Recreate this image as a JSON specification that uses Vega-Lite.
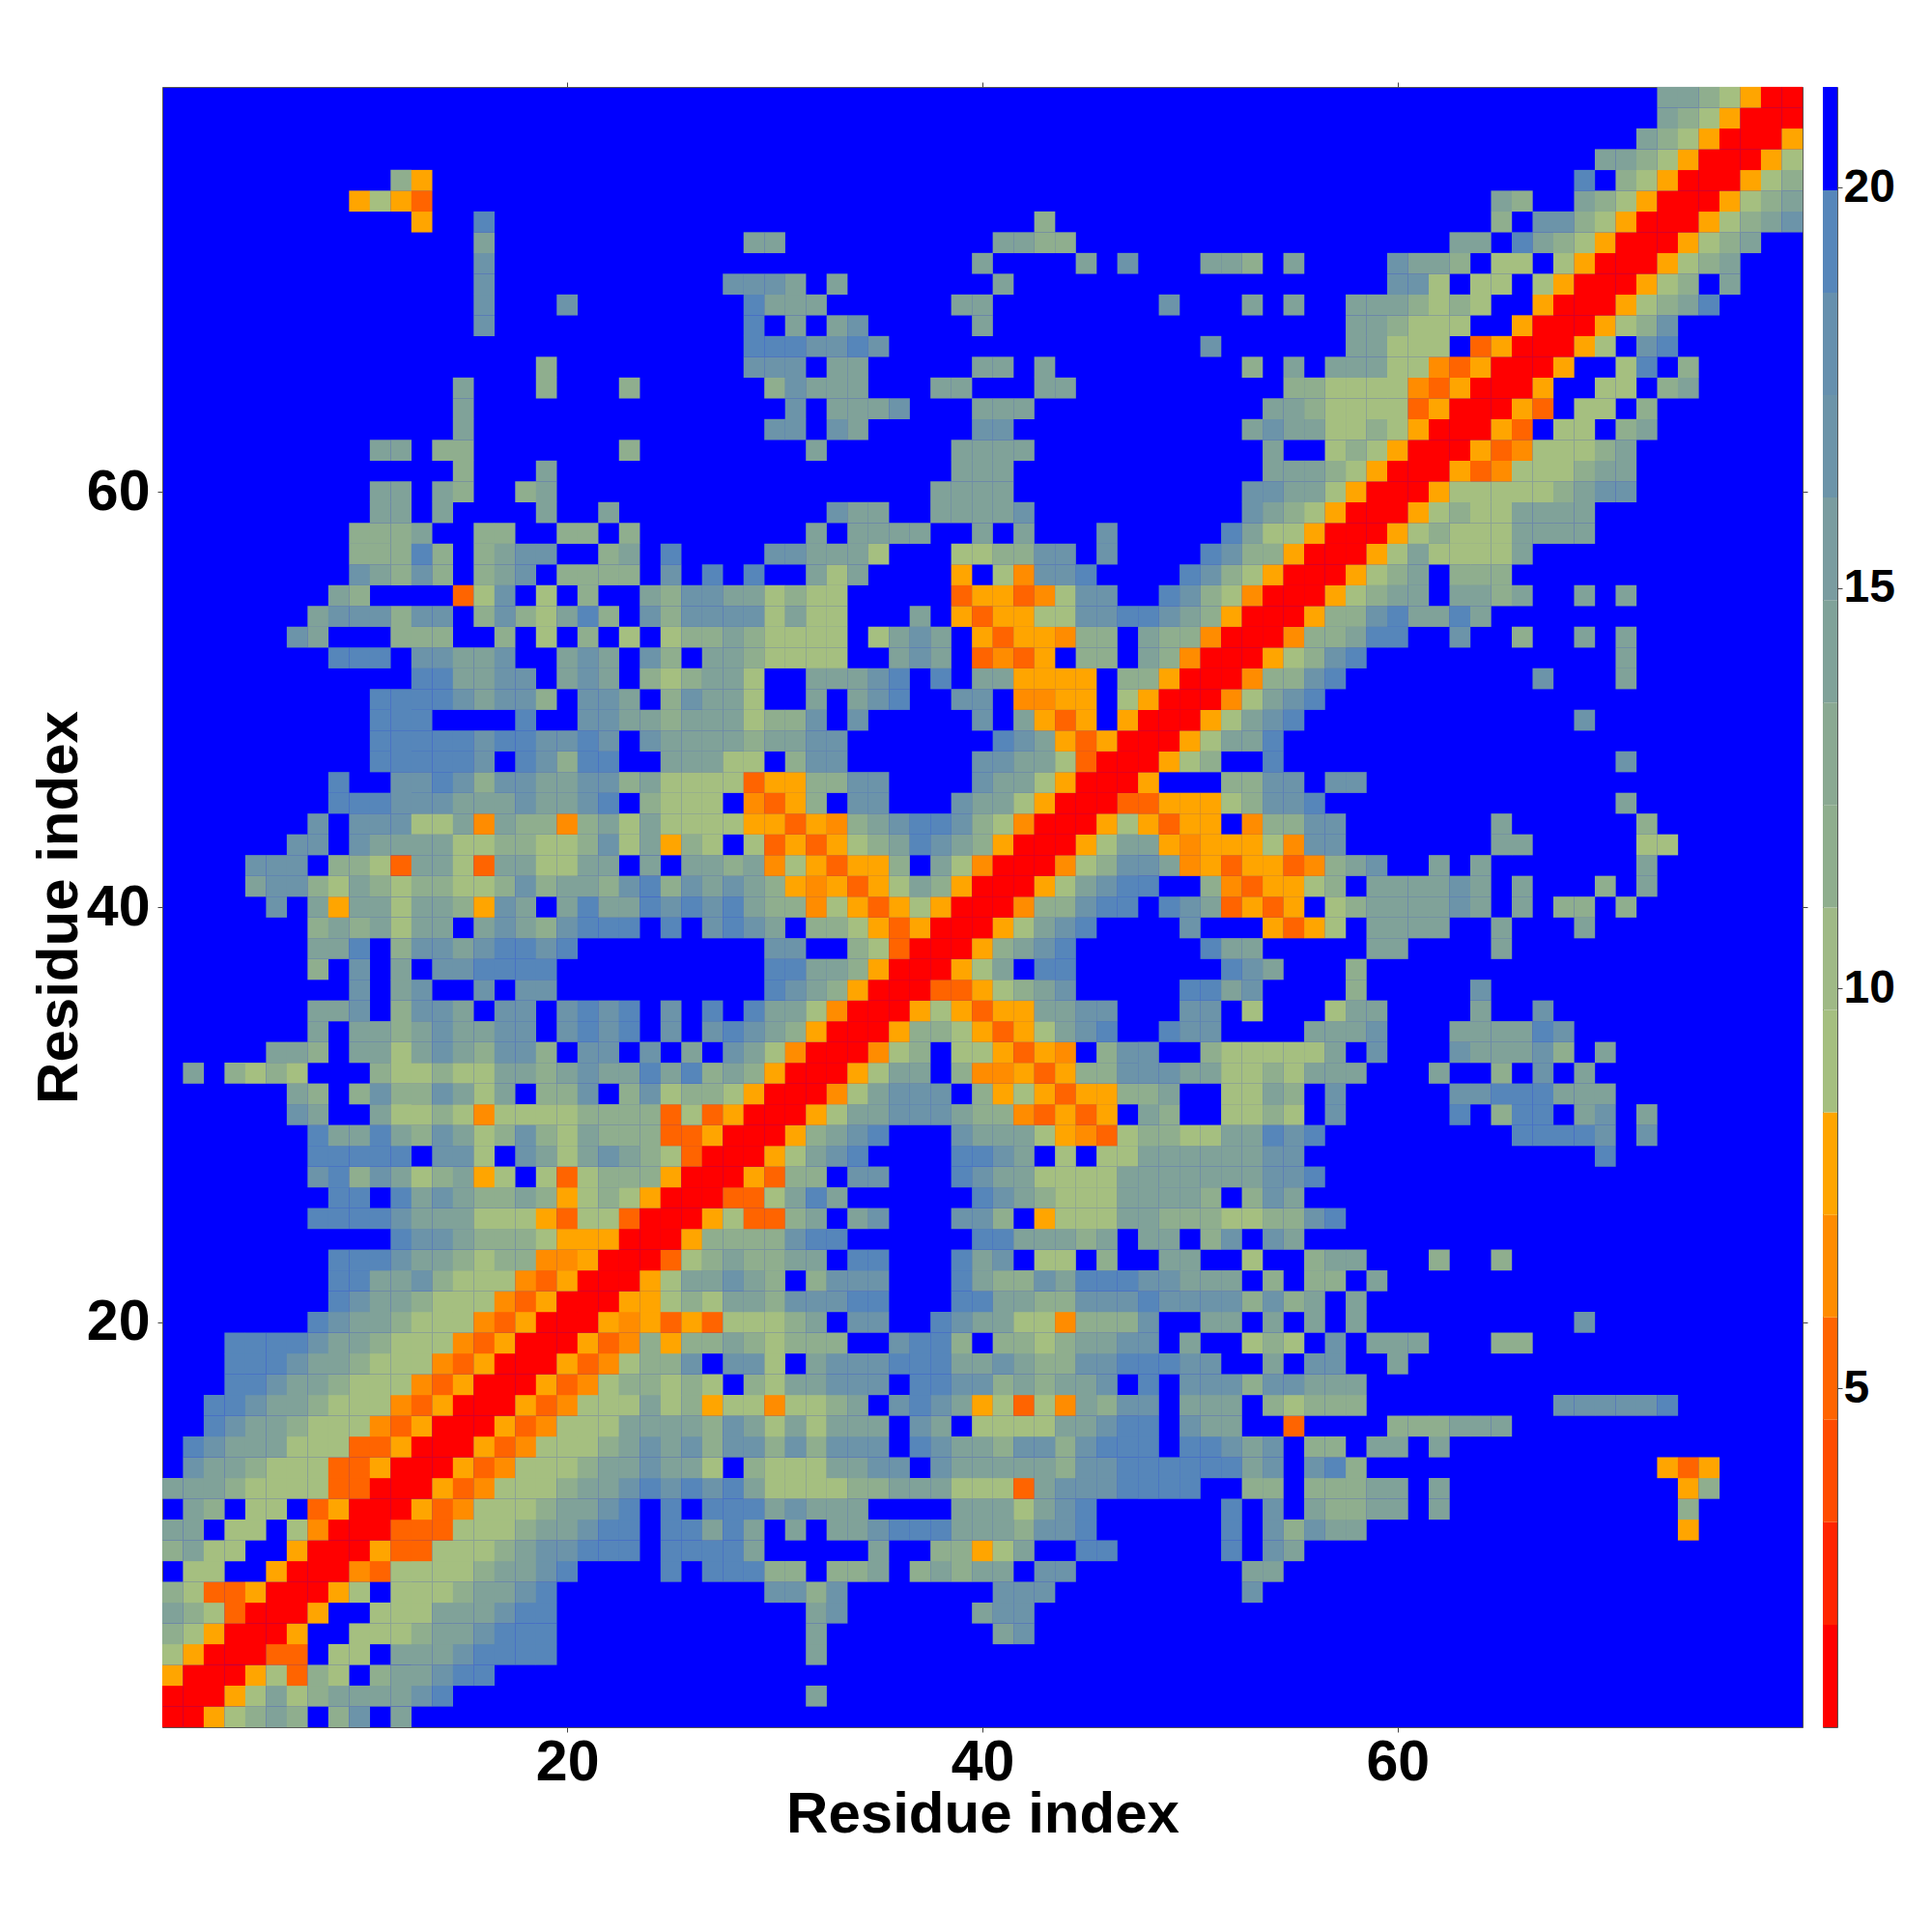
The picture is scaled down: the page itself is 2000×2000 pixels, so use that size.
{"$schema":"https://vega.github.io/schema/vega-lite/v6.json","background":"white","padding":{"left":30,"top":84,"right":0,"bottom":0},"bounds":"flush","spacing":21,"config":{"font":"Liberation Sans"},"datasets":{"cells":[
{"x":1,"y":1,"v":1},{"x":2,"y":1,"v":1},{"x":3,"y":1,"v":8},{"x":4,"y":1,"v":9},{"x":5,"y":1,"v":12},{"x":6,"y":1,"v":14},{"x":7,"y":1,"v":12},{"x":9,"y":1,"v":12},{"x":10,"y":1,"v":17},{"x":12,"y":1,"v":14},
{"x":1,"y":2,"v":1},{"x":2,"y":2,"v":1},{"x":3,"y":2,"v":1},{"x":4,"y":2,"v":8},{"x":5,"y":2,"v":9},{"x":6,"y":2,"v":14},{"x":7,"y":2,"v":9},{"x":8,"y":2,"v":12},{"x":9,"y":2,"v":14},{"x":10,"y":2,"v":14},{"x":11,"y":2,"v":14},{"x":12,"y":2,"v":14},{"x":13,"y":2,"v":17},{"x":14,"y":2,"v":19},{"x":32,"y":2,"v":14},
{"x":1,"y":3,"v":8},{"x":2,"y":3,"v":1},{"x":3,"y":3,"v":1},{"x":4,"y":3,"v":1},{"x":5,"y":3,"v":8},{"x":6,"y":3,"v":9},{"x":7,"y":3,"v":5},{"x":8,"y":3,"v":12},{"x":9,"y":3,"v":9},{"x":11,"y":3,"v":12},{"x":12,"y":3,"v":14},{"x":13,"y":3,"v":14},{"x":14,"y":3,"v":17},{"x":15,"y":3,"v":19},{"x":16,"y":3,"v":19},
{"x":1,"y":4,"v":9},{"x":2,"y":4,"v":8},{"x":3,"y":4,"v":1},{"x":4,"y":4,"v":1},{"x":5,"y":4,"v":1},{"x":6,"y":4,"v":5},{"x":7,"y":4,"v":5},{"x":9,"y":4,"v":9},{"x":10,"y":4,"v":9},{"x":12,"y":4,"v":14},{"x":13,"y":4,"v":14},{"x":14,"y":4,"v":14},{"x":15,"y":4,"v":17},{"x":16,"y":4,"v":19},{"x":17,"y":4,"v":19},{"x":18,"y":4,"v":19},{"x":19,"y":4,"v":19},{"x":32,"y":4,"v":14},
{"x":1,"y":5,"v":12},{"x":2,"y":5,"v":9},{"x":3,"y":5,"v":8},{"x":4,"y":5,"v":1},{"x":5,"y":5,"v":1},{"x":6,"y":5,"v":1},{"x":7,"y":5,"v":8},{"x":10,"y":5,"v":9},{"x":11,"y":5,"v":9},{"x":12,"y":5,"v":9},{"x":13,"y":5,"v":12},{"x":14,"y":5,"v":14},{"x":15,"y":5,"v":14},{"x":16,"y":5,"v":17},{"x":17,"y":5,"v":19},{"x":18,"y":5,"v":19},{"x":19,"y":5,"v":19},{"x":32,"y":5,"v":14},{"x":41,"y":5,"v":14},{"x":42,"y":5,"v":17},
{"x":1,"y":6,"v":14},{"x":2,"y":6,"v":12},{"x":3,"y":6,"v":9},{"x":4,"y":6,"v":5},{"x":5,"y":6,"v":1},{"x":6,"y":6,"v":1},{"x":7,"y":6,"v":1},{"x":8,"y":6,"v":8},{"x":11,"y":6,"v":9},{"x":12,"y":6,"v":9},{"x":13,"y":6,"v":9},{"x":14,"y":6,"v":14},{"x":15,"y":6,"v":14},{"x":16,"y":6,"v":14},{"x":17,"y":6,"v":17},{"x":18,"y":6,"v":19},{"x":19,"y":6,"v":19},{"x":32,"y":6,"v":14},{"x":33,"y":6,"v":17},{"x":40,"y":6,"v":14},{"x":41,"y":6,"v":17},{"x":42,"y":6,"v":17},
{"x":1,"y":7,"v":12},{"x":2,"y":7,"v":9},{"x":3,"y":7,"v":5},{"x":4,"y":7,"v":5},{"x":5,"y":7,"v":8},{"x":6,"y":7,"v":1},{"x":7,"y":7,"v":1},{"x":8,"y":7,"v":1},{"x":9,"y":7,"v":8},{"x":10,"y":7,"v":9},{"x":12,"y":7,"v":9},{"x":13,"y":7,"v":9},{"x":14,"y":7,"v":9},{"x":15,"y":7,"v":12},{"x":16,"y":7,"v":14},{"x":17,"y":7,"v":14},{"x":18,"y":7,"v":17},{"x":19,"y":7,"v":19},{"x":30,"y":7,"v":17},{"x":31,"y":7,"v":17},{"x":32,"y":7,"v":12},{"x":33,"y":7,"v":17},{"x":41,"y":7,"v":17},{"x":42,"y":7,"v":17},{"x":43,"y":7,"v":17},{"x":53,"y":7,"v":17},
{"x":2,"y":8,"v":9},{"x":3,"y":8,"v":9},{"x":6,"y":8,"v":8},{"x":7,"y":8,"v":1},{"x":8,"y":8,"v":1},{"x":9,"y":8,"v":1},{"x":10,"y":8,"v":6},{"x":11,"y":8,"v":5},{"x":12,"y":8,"v":9},{"x":13,"y":8,"v":9},{"x":14,"y":8,"v":9},{"x":15,"y":8,"v":9},{"x":16,"y":8,"v":12},{"x":17,"y":8,"v":14},{"x":18,"y":8,"v":14},{"x":19,"y":8,"v":17},{"x":20,"y":8,"v":19},{"x":25,"y":8,"v":19},{"x":27,"y":8,"v":19},{"x":28,"y":8,"v":19},{"x":29,"y":8,"v":19},{"x":30,"y":8,"v":12},{"x":31,"y":8,"v":12},{"x":33,"y":8,"v":12},{"x":34,"y":8,"v":12},{"x":35,"y":8,"v":14},{"x":37,"y":8,"v":12},{"x":38,"y":8,"v":14},{"x":39,"y":8,"v":12},{"x":40,"y":8,"v":14},{"x":41,"y":8,"v":14},{"x":43,"y":8,"v":17},{"x":44,"y":8,"v":17},{"x":53,"y":8,"v":14},{"x":54,"y":8,"v":14},
{"x":1,"y":9,"v":12},{"x":2,"y":9,"v":14},{"x":3,"y":9,"v":9},{"x":4,"y":9,"v":9},{"x":7,"y":9,"v":8},{"x":8,"y":9,"v":1},{"x":9,"y":9,"v":1},{"x":10,"y":9,"v":1},{"x":11,"y":9,"v":8},{"x":12,"y":9,"v":5},{"x":13,"y":9,"v":5},{"x":14,"y":9,"v":9},{"x":15,"y":9,"v":9},{"x":16,"y":9,"v":9},{"x":17,"y":9,"v":12},{"x":18,"y":9,"v":14},{"x":19,"y":9,"v":17},{"x":20,"y":9,"v":17},{"x":21,"y":9,"v":19},{"x":22,"y":9,"v":19},{"x":23,"y":9,"v":19},{"x":25,"y":9,"v":19},{"x":26,"y":9,"v":19},{"x":27,"y":9,"v":19},{"x":28,"y":9,"v":19},{"x":29,"y":9,"v":14},{"x":35,"y":9,"v":14},{"x":38,"y":9,"v":12},{"x":39,"y":9,"v":12},{"x":40,"y":9,"v":8},{"x":41,"y":9,"v":9},{"x":42,"y":9,"v":14},{"x":45,"y":9,"v":19},{"x":46,"y":9,"v":19},{"x":52,"y":9,"v":19},{"x":54,"y":9,"v":17},{"x":55,"y":9,"v":14},
{"x":1,"y":10,"v":14},{"x":2,"y":10,"v":14},{"x":4,"y":10,"v":9},{"x":5,"y":10,"v":9},{"x":7,"y":10,"v":9},{"x":8,"y":10,"v":6},{"x":9,"y":10,"v":1},{"x":10,"y":10,"v":1},{"x":11,"y":10,"v":1},{"x":12,"y":10,"v":5},{"x":13,"y":10,"v":5},{"x":14,"y":10,"v":5},{"x":15,"y":10,"v":9},{"x":16,"y":10,"v":9},{"x":17,"y":10,"v":9},{"x":18,"y":10,"v":12},{"x":19,"y":10,"v":14},{"x":20,"y":10,"v":14},{"x":21,"y":10,"v":17},{"x":22,"y":10,"v":19},{"x":23,"y":10,"v":19},{"x":25,"y":10,"v":19},{"x":26,"y":10,"v":19},{"x":27,"y":10,"v":14},{"x":28,"y":10,"v":19},{"x":29,"y":10,"v":14},{"x":31,"y":10,"v":14},{"x":33,"y":10,"v":14},{"x":34,"y":10,"v":14},{"x":35,"y":10,"v":17},{"x":36,"y":10,"v":19},{"x":37,"y":10,"v":19},{"x":38,"y":10,"v":19},{"x":39,"y":10,"v":14},{"x":40,"y":10,"v":14},{"x":41,"y":10,"v":14},{"x":42,"y":10,"v":12},{"x":43,"y":10,"v":17},{"x":44,"y":10,"v":17},{"x":45,"y":10,"v":19},{"x":52,"y":10,"v":19},{"x":54,"y":10,"v":17},{"x":55,"y":10,"v":12},{"x":56,"y":10,"v":17},{"x":57,"y":10,"v":14},{"x":58,"y":10,"v":14},{"x":74,"y":10,"v":8},
{"x":2,"y":11,"v":14},{"x":3,"y":11,"v":12},{"x":5,"y":11,"v":9},{"x":6,"y":11,"v":9},{"x":8,"y":11,"v":5},{"x":9,"y":11,"v":8},{"x":10,"y":11,"v":1},{"x":11,"y":11,"v":1},{"x":12,"y":11,"v":1},{"x":13,"y":11,"v":8},{"x":14,"y":11,"v":5},{"x":15,"y":11,"v":6},{"x":16,"y":11,"v":9},{"x":17,"y":11,"v":9},{"x":18,"y":11,"v":9},{"x":19,"y":11,"v":12},{"x":20,"y":11,"v":14},{"x":21,"y":11,"v":14},{"x":22,"y":11,"v":17},{"x":23,"y":11,"v":19},{"x":25,"y":11,"v":19},{"x":27,"y":11,"v":19},{"x":28,"y":11,"v":19},{"x":29,"y":11,"v":19},{"x":30,"y":11,"v":14},{"x":31,"y":11,"v":17},{"x":32,"y":11,"v":14},{"x":33,"y":11,"v":14},{"x":34,"y":11,"v":14},{"x":39,"y":11,"v":14},{"x":40,"y":11,"v":14},{"x":41,"y":11,"v":14},{"x":42,"y":11,"v":9},{"x":43,"y":11,"v":14},{"x":44,"y":11,"v":17},{"x":45,"y":11,"v":19},{"x":52,"y":11,"v":19},{"x":54,"y":11,"v":17},{"x":56,"y":11,"v":14},{"x":57,"y":11,"v":12},{"x":58,"y":11,"v":12},{"x":59,"y":11,"v":14},{"x":60,"y":11,"v":14},{"x":62,"y":11,"v":14},{"x":74,"y":11,"v":12},
{"x":1,"y":12,"v":14},{"x":2,"y":12,"v":14},{"x":3,"y":12,"v":14},{"x":4,"y":12,"v":12},{"x":5,"y":12,"v":9},{"x":6,"y":12,"v":9},{"x":7,"y":12,"v":9},{"x":8,"y":12,"v":9},{"x":9,"y":12,"v":5},{"x":10,"y":12,"v":5},{"x":11,"y":12,"v":1},{"x":12,"y":12,"v":1},{"x":13,"y":12,"v":1},{"x":14,"y":12,"v":8},{"x":15,"y":12,"v":5},{"x":16,"y":12,"v":6},{"x":17,"y":12,"v":9},{"x":18,"y":12,"v":9},{"x":19,"y":12,"v":9},{"x":20,"y":12,"v":12},{"x":21,"y":12,"v":14},{"x":22,"y":12,"v":14},{"x":23,"y":12,"v":17},{"x":24,"y":12,"v":19},{"x":25,"y":12,"v":17},{"x":26,"y":12,"v":19},{"x":27,"y":12,"v":17},{"x":28,"y":12,"v":19},{"x":29,"y":12,"v":14},{"x":30,"y":12,"v":9},{"x":31,"y":12,"v":9},{"x":32,"y":12,"v":9},{"x":33,"y":12,"v":9},{"x":34,"y":12,"v":12},{"x":35,"y":12,"v":12},{"x":36,"y":12,"v":14},{"x":37,"y":12,"v":14},{"x":38,"y":12,"v":14},{"x":39,"y":12,"v":9},{"x":40,"y":12,"v":9},{"x":41,"y":12,"v":9},{"x":42,"y":12,"v":5},{"x":43,"y":12,"v":14},{"x":44,"y":12,"v":17},{"x":45,"y":12,"v":17},{"x":46,"y":12,"v":17},{"x":47,"y":12,"v":19},{"x":48,"y":12,"v":19},{"x":49,"y":12,"v":19},{"x":50,"y":12,"v":19},{"x":53,"y":12,"v":12},{"x":54,"y":12,"v":12},{"x":56,"y":12,"v":12},{"x":57,"y":12,"v":12},{"x":58,"y":12,"v":12},{"x":59,"y":12,"v":14},{"x":60,"y":12,"v":14},{"x":62,"y":12,"v":14},{"x":74,"y":12,"v":8},{"x":75,"y":12,"v":12},
{"x":2,"y":13,"v":17},{"x":3,"y":13,"v":14},{"x":4,"y":13,"v":14},{"x":5,"y":13,"v":12},{"x":6,"y":13,"v":9},{"x":7,"y":13,"v":9},{"x":8,"y":13,"v":9},{"x":9,"y":13,"v":5},{"x":10,"y":13,"v":5},{"x":11,"y":13,"v":8},{"x":12,"y":13,"v":1},{"x":13,"y":13,"v":1},{"x":14,"y":13,"v":1},{"x":15,"y":13,"v":8},{"x":16,"y":13,"v":5},{"x":17,"y":13,"v":6},{"x":18,"y":13,"v":9},{"x":19,"y":13,"v":9},{"x":20,"y":13,"v":9},{"x":21,"y":13,"v":12},{"x":22,"y":13,"v":14},{"x":23,"y":13,"v":14},{"x":24,"y":13,"v":17},{"x":25,"y":13,"v":14},{"x":26,"y":13,"v":14},{"x":27,"y":13,"v":9},{"x":29,"y":13,"v":12},{"x":30,"y":13,"v":9},{"x":31,"y":13,"v":9},{"x":32,"y":13,"v":9},{"x":33,"y":13,"v":14},{"x":34,"y":13,"v":14},{"x":35,"y":13,"v":17},{"x":36,"y":13,"v":17},{"x":38,"y":13,"v":17},{"x":39,"y":13,"v":14},{"x":40,"y":13,"v":14},{"x":41,"y":13,"v":14},{"x":42,"y":13,"v":14},{"x":43,"y":13,"v":14},{"x":44,"y":13,"v":12},{"x":45,"y":13,"v":17},{"x":46,"y":13,"v":17},{"x":47,"y":13,"v":19},{"x":48,"y":13,"v":19},{"x":49,"y":13,"v":19},{"x":50,"y":13,"v":19},{"x":51,"y":13,"v":19},{"x":52,"y":13,"v":19},{"x":53,"y":13,"v":14},{"x":54,"y":13,"v":17},{"x":56,"y":13,"v":17},{"x":57,"y":13,"v":19},{"x":58,"y":13,"v":12},{"x":73,"y":13,"v":8},{"x":74,"y":13,"v":5},{"x":75,"y":13,"v":8},
{"x":2,"y":14,"v":19},{"x":3,"y":14,"v":17},{"x":4,"y":14,"v":14},{"x":5,"y":14,"v":14},{"x":6,"y":14,"v":14},{"x":7,"y":14,"v":9},{"x":8,"y":14,"v":9},{"x":9,"y":14,"v":9},{"x":10,"y":14,"v":5},{"x":11,"y":14,"v":5},{"x":12,"y":14,"v":8},{"x":13,"y":14,"v":1},{"x":14,"y":14,"v":1},{"x":15,"y":14,"v":1},{"x":16,"y":14,"v":8},{"x":17,"y":14,"v":5},{"x":18,"y":14,"v":6},{"x":19,"y":14,"v":9},{"x":20,"y":14,"v":9},{"x":21,"y":14,"v":9},{"x":22,"y":14,"v":12},{"x":23,"y":14,"v":14},{"x":24,"y":14,"v":17},{"x":25,"y":14,"v":14},{"x":26,"y":14,"v":17},{"x":27,"y":14,"v":12},{"x":28,"y":14,"v":17},{"x":29,"y":14,"v":17},{"x":30,"y":14,"v":12},{"x":31,"y":14,"v":17},{"x":32,"y":14,"v":12},{"x":33,"y":14,"v":17},{"x":34,"y":14,"v":17},{"x":35,"y":14,"v":17},{"x":37,"y":14,"v":19},{"x":38,"y":14,"v":17},{"x":39,"y":14,"v":14},{"x":40,"y":14,"v":14},{"x":41,"y":14,"v":12},{"x":42,"y":14,"v":17},{"x":43,"y":14,"v":17},{"x":44,"y":14,"v":12},{"x":45,"y":14,"v":17},{"x":46,"y":14,"v":19},{"x":47,"y":14,"v":19},{"x":48,"y":14,"v":19},{"x":50,"y":14,"v":19},{"x":51,"y":14,"v":19},{"x":52,"y":14,"v":17},{"x":53,"y":14,"v":14},{"x":54,"y":14,"v":17},{"x":56,"y":14,"v":12},{"x":57,"y":14,"v":12},{"x":59,"y":14,"v":14},{"x":60,"y":14,"v":14},{"x":62,"y":14,"v":14},
{"x":3,"y":15,"v":19},{"x":4,"y":15,"v":17},{"x":5,"y":15,"v":14},{"x":6,"y":15,"v":14},{"x":7,"y":15,"v":12},{"x":8,"y":15,"v":9},{"x":9,"y":15,"v":9},{"x":10,"y":15,"v":9},{"x":11,"y":15,"v":6},{"x":12,"y":15,"v":5},{"x":13,"y":15,"v":8},{"x":14,"y":15,"v":1},{"x":15,"y":15,"v":1},{"x":16,"y":15,"v":1},{"x":17,"y":15,"v":8},{"x":18,"y":15,"v":5},{"x":19,"y":15,"v":6},{"x":20,"y":15,"v":9},{"x":21,"y":15,"v":9},{"x":22,"y":15,"v":9},{"x":23,"y":15,"v":14},{"x":24,"y":15,"v":14},{"x":25,"y":15,"v":14},{"x":26,"y":15,"v":14},{"x":27,"y":15,"v":12},{"x":28,"y":15,"v":17},{"x":29,"y":15,"v":14},{"x":30,"y":15,"v":9},{"x":31,"y":15,"v":14},{"x":32,"y":15,"v":9},{"x":33,"y":15,"v":14},{"x":34,"y":15,"v":14},{"x":35,"y":15,"v":14},{"x":37,"y":15,"v":17},{"x":38,"y":15,"v":14},{"x":40,"y":15,"v":9},{"x":41,"y":15,"v":9},{"x":42,"y":15,"v":9},{"x":43,"y":15,"v":9},{"x":44,"y":15,"v":14},{"x":45,"y":15,"v":14},{"x":46,"y":15,"v":17},{"x":47,"y":15,"v":19},{"x":48,"y":15,"v":19},{"x":50,"y":15,"v":17},{"x":51,"y":15,"v":14},{"x":52,"y":15,"v":14},{"x":55,"y":15,"v":5},{"x":60,"y":15,"v":12},{"x":61,"y":15,"v":12},{"x":62,"y":15,"v":12},{"x":63,"y":15,"v":14},{"x":64,"y":15,"v":14},{"x":65,"y":15,"v":14},
{"x":3,"y":16,"v":19},{"x":4,"y":16,"v":19},{"x":5,"y":16,"v":17},{"x":6,"y":16,"v":14},{"x":7,"y":16,"v":14},{"x":8,"y":16,"v":12},{"x":9,"y":16,"v":9},{"x":10,"y":16,"v":9},{"x":11,"y":16,"v":9},{"x":12,"y":16,"v":6},{"x":13,"y":16,"v":5},{"x":14,"y":16,"v":8},{"x":15,"y":16,"v":1},{"x":16,"y":16,"v":1},{"x":17,"y":16,"v":1},{"x":18,"y":16,"v":8},{"x":19,"y":16,"v":5},{"x":20,"y":16,"v":6},{"x":21,"y":16,"v":9},{"x":22,"y":16,"v":9},{"x":23,"y":16,"v":9},{"x":24,"y":16,"v":14},{"x":25,"y":16,"v":9},{"x":26,"y":16,"v":12},{"x":27,"y":16,"v":8},{"x":28,"y":16,"v":9},{"x":29,"y":16,"v":9},{"x":30,"y":16,"v":6},{"x":31,"y":16,"v":9},{"x":32,"y":16,"v":9},{"x":33,"y":16,"v":12},{"x":34,"y":16,"v":14},{"x":36,"y":16,"v":17},{"x":37,"y":16,"v":19},{"x":38,"y":16,"v":17},{"x":39,"y":16,"v":14},{"x":40,"y":16,"v":8},{"x":41,"y":16,"v":9},{"x":42,"y":16,"v":5},{"x":43,"y":16,"v":9},{"x":44,"y":16,"v":6},{"x":45,"y":16,"v":14},{"x":46,"y":16,"v":12},{"x":47,"y":16,"v":17},{"x":48,"y":16,"v":17},{"x":50,"y":16,"v":14},{"x":51,"y":16,"v":14},{"x":52,"y":16,"v":14},{"x":54,"y":16,"v":12},{"x":55,"y":16,"v":9},{"x":56,"y":16,"v":12},{"x":57,"y":16,"v":12},{"x":58,"y":16,"v":12},{"x":68,"y":16,"v":17},{"x":69,"y":16,"v":17},{"x":70,"y":16,"v":17},{"x":71,"y":16,"v":17},{"x":72,"y":16,"v":17},{"x":73,"y":16,"v":19},
{"x":4,"y":17,"v":19},{"x":5,"y":17,"v":19},{"x":6,"y":17,"v":17},{"x":7,"y":17,"v":14},{"x":8,"y":17,"v":14},{"x":9,"y":17,"v":12},{"x":10,"y":17,"v":9},{"x":11,"y":17,"v":9},{"x":12,"y":17,"v":9},{"x":13,"y":17,"v":6},{"x":14,"y":17,"v":5},{"x":15,"y":17,"v":8},{"x":16,"y":17,"v":1},{"x":17,"y":17,"v":1},{"x":18,"y":17,"v":1},{"x":19,"y":17,"v":8},{"x":20,"y":17,"v":5},{"x":21,"y":17,"v":6},{"x":22,"y":17,"v":9},{"x":23,"y":17,"v":12},{"x":24,"y":17,"v":12},{"x":25,"y":17,"v":9},{"x":26,"y":17,"v":12},{"x":27,"y":17,"v":9},{"x":29,"y":17,"v":12},{"x":30,"y":17,"v":9},{"x":31,"y":17,"v":14},{"x":32,"y":17,"v":14},{"x":33,"y":17,"v":17},{"x":34,"y":17,"v":17},{"x":35,"y":17,"v":17},{"x":37,"y":17,"v":19},{"x":38,"y":17,"v":19},{"x":39,"y":17,"v":17},{"x":40,"y":17,"v":17},{"x":41,"y":17,"v":12},{"x":42,"y":17,"v":14},{"x":43,"y":17,"v":12},{"x":44,"y":17,"v":14},{"x":45,"y":17,"v":14},{"x":46,"y":17,"v":17},{"x":48,"y":17,"v":19},{"x":50,"y":17,"v":17},{"x":51,"y":17,"v":17},{"x":52,"y":17,"v":17},{"x":53,"y":17,"v":12},{"x":54,"y":17,"v":17},{"x":55,"y":17,"v":17},{"x":56,"y":17,"v":14},{"x":57,"y":17,"v":14},{"x":58,"y":17,"v":14},
{"x":4,"y":18,"v":19},{"x":5,"y":18,"v":19},{"x":6,"y":18,"v":19},{"x":7,"y":18,"v":17},{"x":8,"y":18,"v":14},{"x":9,"y":18,"v":14},{"x":10,"y":18,"v":12},{"x":11,"y":18,"v":9},{"x":12,"y":18,"v":9},{"x":13,"y":18,"v":9},{"x":14,"y":18,"v":6},{"x":15,"y":18,"v":5},{"x":16,"y":18,"v":8},{"x":17,"y":18,"v":1},{"x":18,"y":18,"v":1},{"x":19,"y":18,"v":1},{"x":20,"y":18,"v":8},{"x":21,"y":18,"v":5},{"x":22,"y":18,"v":6},{"x":23,"y":18,"v":9},{"x":24,"y":18,"v":12},{"x":25,"y":18,"v":12},{"x":26,"y":18,"v":17},{"x":28,"y":18,"v":17},{"x":29,"y":18,"v":17},{"x":30,"y":18,"v":9},{"x":32,"y":18,"v":14},{"x":33,"y":18,"v":17},{"x":34,"y":18,"v":17},{"x":35,"y":18,"v":17},{"x":36,"y":18,"v":19},{"x":37,"y":18,"v":19},{"x":38,"y":18,"v":19},{"x":39,"y":18,"v":14},{"x":40,"y":18,"v":14},{"x":41,"y":18,"v":17},{"x":42,"y":18,"v":14},{"x":43,"y":18,"v":12},{"x":44,"y":18,"v":12},{"x":45,"y":18,"v":17},{"x":46,"y":18,"v":17},{"x":47,"y":18,"v":19},{"x":48,"y":18,"v":19},{"x":49,"y":18,"v":19},{"x":50,"y":18,"v":17},{"x":51,"y":18,"v":17},{"x":54,"y":18,"v":14},{"x":56,"y":18,"v":17},{"x":57,"y":18,"v":17},{"x":60,"y":18,"v":14},
{"x":4,"y":19,"v":19},{"x":5,"y":19,"v":19},{"x":6,"y":19,"v":19},{"x":7,"y":19,"v":19},{"x":8,"y":19,"v":17},{"x":9,"y":19,"v":14},{"x":10,"y":19,"v":14},{"x":11,"y":19,"v":12},{"x":12,"y":19,"v":9},{"x":13,"y":19,"v":9},{"x":14,"y":19,"v":9},{"x":15,"y":19,"v":6},{"x":16,"y":19,"v":5},{"x":17,"y":19,"v":8},{"x":18,"y":19,"v":1},{"x":19,"y":19,"v":1},{"x":20,"y":19,"v":1},{"x":21,"y":19,"v":8},{"x":22,"y":19,"v":5},{"x":23,"y":19,"v":6},{"x":24,"y":19,"v":12},{"x":25,"y":19,"v":8},{"x":26,"y":19,"v":12},{"x":27,"y":19,"v":12},{"x":28,"y":19,"v":14},{"x":29,"y":19,"v":12},{"x":30,"y":19,"v":9},{"x":31,"y":19,"v":12},{"x":32,"y":19,"v":12},{"x":33,"y":19,"v":12},{"x":36,"y":19,"v":17},{"x":37,"y":19,"v":19},{"x":38,"y":19,"v":19},{"x":39,"y":19,"v":12},{"x":41,"y":19,"v":12},{"x":42,"y":19,"v":12},{"x":43,"y":19,"v":9},{"x":44,"y":19,"v":12},{"x":45,"y":19,"v":14},{"x":46,"y":19,"v":14},{"x":47,"y":19,"v":17},{"x":48,"y":19,"v":17},{"x":50,"y":19,"v":14},{"x":53,"y":19,"v":9},{"x":54,"y":19,"v":12},{"x":55,"y":19,"v":9},{"x":57,"y":19,"v":17},{"x":59,"y":19,"v":14},{"x":60,"y":19,"v":14},{"x":61,"y":19,"v":14},{"x":65,"y":19,"v":12},{"x":66,"y":19,"v":12},
{"x":8,"y":20,"v":19},{"x":9,"y":20,"v":17},{"x":10,"y":20,"v":14},{"x":11,"y":20,"v":14},{"x":12,"y":20,"v":12},{"x":13,"y":20,"v":9},{"x":14,"y":20,"v":9},{"x":15,"y":20,"v":9},{"x":16,"y":20,"v":6},{"x":17,"y":20,"v":5},{"x":18,"y":20,"v":8},{"x":19,"y":20,"v":1},{"x":20,"y":20,"v":1},{"x":21,"y":20,"v":1},{"x":22,"y":20,"v":8},{"x":23,"y":20,"v":6},{"x":24,"y":20,"v":8},{"x":25,"y":20,"v":5},{"x":26,"y":20,"v":8},{"x":27,"y":20,"v":5},{"x":28,"y":20,"v":9},{"x":29,"y":20,"v":9},{"x":30,"y":20,"v":9},{"x":31,"y":20,"v":12},{"x":32,"y":20,"v":14},{"x":34,"y":20,"v":17},{"x":35,"y":20,"v":17},{"x":38,"y":20,"v":19},{"x":39,"y":20,"v":17},{"x":40,"y":20,"v":14},{"x":41,"y":20,"v":14},{"x":42,"y":20,"v":9},{"x":43,"y":20,"v":9},{"x":44,"y":20,"v":6},{"x":45,"y":20,"v":12},{"x":46,"y":20,"v":12},{"x":47,"y":20,"v":12},{"x":48,"y":20,"v":17},{"x":51,"y":20,"v":14},{"x":52,"y":20,"v":14},{"x":54,"y":20,"v":14},{"x":56,"y":20,"v":14},{"x":58,"y":20,"v":14},{"x":69,"y":20,"v":17},
{"x":9,"y":21,"v":19},{"x":10,"y":21,"v":17},{"x":11,"y":21,"v":14},{"x":12,"y":21,"v":14},{"x":13,"y":21,"v":12},{"x":14,"y":21,"v":9},{"x":15,"y":21,"v":9},{"x":16,"y":21,"v":9},{"x":17,"y":21,"v":6},{"x":18,"y":21,"v":5},{"x":19,"y":21,"v":8},{"x":20,"y":21,"v":1},{"x":21,"y":21,"v":1},{"x":22,"y":21,"v":1},{"x":23,"y":21,"v":8},{"x":24,"y":21,"v":8},{"x":25,"y":21,"v":9},{"x":26,"y":21,"v":12},{"x":27,"y":21,"v":9},{"x":28,"y":21,"v":14},{"x":29,"y":21,"v":14},{"x":30,"y":21,"v":12},{"x":31,"y":21,"v":17},{"x":32,"y":21,"v":17},{"x":33,"y":21,"v":17},{"x":34,"y":21,"v":19},{"x":35,"y":21,"v":19},{"x":39,"y":21,"v":19},{"x":40,"y":21,"v":19},{"x":41,"y":21,"v":14},{"x":42,"y":21,"v":14},{"x":43,"y":21,"v":12},{"x":44,"y":21,"v":12},{"x":45,"y":21,"v":17},{"x":46,"y":21,"v":17},{"x":47,"y":21,"v":17},{"x":48,"y":21,"v":19},{"x":49,"y":21,"v":17},{"x":50,"y":21,"v":17},{"x":51,"y":21,"v":17},{"x":52,"y":21,"v":17},{"x":53,"y":21,"v":12},{"x":54,"y":21,"v":17},{"x":55,"y":21,"v":12},{"x":56,"y":21,"v":14},{"x":58,"y":21,"v":14},
{"x":9,"y":22,"v":19},{"x":10,"y":22,"v":19},{"x":11,"y":22,"v":14},{"x":12,"y":22,"v":14},{"x":13,"y":22,"v":17},{"x":14,"y":22,"v":12},{"x":15,"y":22,"v":9},{"x":16,"y":22,"v":9},{"x":17,"y":22,"v":9},{"x":18,"y":22,"v":6},{"x":19,"y":22,"v":5},{"x":20,"y":22,"v":8},{"x":21,"y":22,"v":1},{"x":22,"y":22,"v":1},{"x":23,"y":22,"v":1},{"x":24,"y":22,"v":8},{"x":25,"y":22,"v":9},{"x":26,"y":22,"v":14},{"x":27,"y":22,"v":14},{"x":28,"y":22,"v":17},{"x":29,"y":22,"v":14},{"x":30,"y":22,"v":12},{"x":32,"y":22,"v":12},{"x":33,"y":22,"v":17},{"x":34,"y":22,"v":17},{"x":35,"y":22,"v":17},{"x":39,"y":22,"v":19},{"x":40,"y":22,"v":14},{"x":41,"y":22,"v":12},{"x":42,"y":22,"v":12},{"x":43,"y":22,"v":17},{"x":44,"y":22,"v":14},{"x":45,"y":22,"v":19},{"x":46,"y":22,"v":19},{"x":47,"y":22,"v":19},{"x":48,"y":22,"v":17},{"x":49,"y":22,"v":17},{"x":50,"y":22,"v":14},{"x":51,"y":22,"v":14},{"x":52,"y":22,"v":14},{"x":54,"y":22,"v":12},{"x":56,"y":22,"v":12},{"x":57,"y":22,"v":12},{"x":59,"y":22,"v":14},
{"x":9,"y":23,"v":19},{"x":10,"y":23,"v":19},{"x":11,"y":23,"v":19},{"x":12,"y":23,"v":17},{"x":13,"y":23,"v":14},{"x":14,"y":23,"v":14},{"x":15,"y":23,"v":12},{"x":16,"y":23,"v":9},{"x":17,"y":23,"v":12},{"x":18,"y":23,"v":12},{"x":19,"y":23,"v":6},{"x":20,"y":23,"v":6},{"x":21,"y":23,"v":8},{"x":22,"y":23,"v":1},{"x":23,"y":23,"v":1},{"x":24,"y":23,"v":1},{"x":25,"y":23,"v":5},{"x":26,"y":23,"v":9},{"x":27,"y":23,"v":12},{"x":28,"y":23,"v":14},{"x":29,"y":23,"v":12},{"x":30,"y":23,"v":12},{"x":31,"y":23,"v":14},{"x":32,"y":23,"v":14},{"x":34,"y":23,"v":19},{"x":35,"y":23,"v":19},{"x":39,"y":23,"v":19},{"x":40,"y":23,"v":14},{"x":41,"y":23,"v":17},{"x":43,"y":23,"v":9},{"x":44,"y":23,"v":9},{"x":46,"y":23,"v":12},{"x":49,"y":23,"v":14},{"x":50,"y":23,"v":14},{"x":53,"y":23,"v":9},{"x":56,"y":23,"v":12},{"x":57,"y":23,"v":14},{"x":58,"y":23,"v":14},{"x":62,"y":23,"v":12},{"x":65,"y":23,"v":12},
{"x":12,"y":24,"v":19},{"x":13,"y":24,"v":17},{"x":14,"y":24,"v":17},{"x":15,"y":24,"v":14},{"x":16,"y":24,"v":12},{"x":17,"y":24,"v":12},{"x":18,"y":24,"v":12},{"x":19,"y":24,"v":9},{"x":20,"y":24,"v":8},{"x":21,"y":24,"v":8},{"x":22,"y":24,"v":8},{"x":23,"y":24,"v":1},{"x":24,"y":24,"v":1},{"x":25,"y":24,"v":1},{"x":26,"y":24,"v":8},{"x":27,"y":24,"v":12},{"x":28,"y":24,"v":12},{"x":29,"y":24,"v":12},{"x":30,"y":24,"v":12},{"x":31,"y":24,"v":17},{"x":32,"y":24,"v":19},{"x":33,"y":24,"v":19},{"x":40,"y":24,"v":19},{"x":41,"y":24,"v":19},{"x":42,"y":24,"v":14},{"x":43,"y":24,"v":14},{"x":44,"y":24,"v":14},{"x":45,"y":24,"v":12},{"x":46,"y":24,"v":14},{"x":48,"y":24,"v":14},{"x":49,"y":24,"v":14},{"x":51,"y":24,"v":12},{"x":52,"y":24,"v":17},{"x":54,"y":24,"v":17},{"x":55,"y":24,"v":14},
{"x":8,"y":25,"v":19},{"x":9,"y":25,"v":19},{"x":10,"y":25,"v":19},{"x":11,"y":25,"v":19},{"x":12,"y":25,"v":17},{"x":13,"y":25,"v":14},{"x":14,"y":25,"v":14},{"x":15,"y":25,"v":14},{"x":16,"y":25,"v":9},{"x":17,"y":25,"v":9},{"x":18,"y":25,"v":9},{"x":19,"y":25,"v":8},{"x":20,"y":25,"v":5},{"x":21,"y":25,"v":9},{"x":22,"y":25,"v":9},{"x":23,"y":25,"v":5},{"x":24,"y":25,"v":1},{"x":25,"y":25,"v":1},{"x":26,"y":25,"v":1},{"x":27,"y":25,"v":8},{"x":28,"y":25,"v":9},{"x":29,"y":25,"v":5},{"x":30,"y":25,"v":5},{"x":31,"y":25,"v":12},{"x":32,"y":25,"v":14},{"x":34,"y":25,"v":14},{"x":35,"y":25,"v":17},{"x":39,"y":25,"v":17},{"x":40,"y":25,"v":17},{"x":41,"y":25,"v":12},{"x":43,"y":25,"v":8},{"x":44,"y":25,"v":9},{"x":45,"y":25,"v":9},{"x":46,"y":25,"v":9},{"x":47,"y":25,"v":14},{"x":48,"y":25,"v":14},{"x":49,"y":25,"v":12},{"x":50,"y":25,"v":12},{"x":51,"y":25,"v":12},{"x":52,"y":25,"v":9},{"x":53,"y":25,"v":9},{"x":54,"y":25,"v":12},{"x":55,"y":25,"v":12},{"x":56,"y":25,"v":17},{"x":57,"y":25,"v":19},
{"x":9,"y":26,"v":19},{"x":10,"y":26,"v":19},{"x":12,"y":26,"v":19},{"x":13,"y":26,"v":14},{"x":14,"y":26,"v":17},{"x":15,"y":26,"v":14},{"x":16,"y":26,"v":12},{"x":17,"y":26,"v":12},{"x":18,"y":26,"v":14},{"x":19,"y":26,"v":12},{"x":20,"y":26,"v":8},{"x":21,"y":26,"v":9},{"x":22,"y":26,"v":12},{"x":23,"y":26,"v":9},{"x":24,"y":26,"v":8},{"x":25,"y":26,"v":1},{"x":26,"y":26,"v":1},{"x":27,"y":26,"v":1},{"x":28,"y":26,"v":5},{"x":29,"y":26,"v":5},{"x":30,"y":26,"v":9},{"x":31,"y":26,"v":14},{"x":32,"y":26,"v":19},{"x":33,"y":26,"v":14},{"x":40,"y":26,"v":19},{"x":41,"y":26,"v":17},{"x":42,"y":26,"v":14},{"x":43,"y":26,"v":12},{"x":44,"y":26,"v":9},{"x":45,"y":26,"v":9},{"x":46,"y":26,"v":9},{"x":47,"y":26,"v":14},{"x":48,"y":26,"v":14},{"x":49,"y":26,"v":14},{"x":50,"y":26,"v":14},{"x":51,"y":26,"v":12},{"x":53,"y":26,"v":12},{"x":54,"y":26,"v":17},{"x":55,"y":26,"v":14},
{"x":8,"y":27,"v":17},{"x":9,"y":27,"v":19},{"x":10,"y":27,"v":12},{"x":11,"y":27,"v":17},{"x":12,"y":27,"v":14},{"x":13,"y":27,"v":9},{"x":14,"y":27,"v":12},{"x":15,"y":27,"v":14},{"x":16,"y":27,"v":8},{"x":17,"y":27,"v":9},{"x":19,"y":27,"v":9},{"x":20,"y":27,"v":5},{"x":21,"y":27,"v":9},{"x":22,"y":27,"v":12},{"x":23,"y":27,"v":12},{"x":24,"y":27,"v":12},{"x":25,"y":27,"v":8},{"x":26,"y":27,"v":1},{"x":27,"y":27,"v":1},{"x":28,"y":27,"v":1},{"x":29,"y":27,"v":8},{"x":30,"y":27,"v":5},{"x":31,"y":27,"v":12},{"x":32,"y":27,"v":12},{"x":34,"y":27,"v":17},{"x":35,"y":27,"v":17},{"x":39,"y":27,"v":19},{"x":40,"y":27,"v":17},{"x":41,"y":27,"v":14},{"x":42,"y":27,"v":14},{"x":43,"y":27,"v":9},{"x":44,"y":27,"v":9},{"x":45,"y":27,"v":9},{"x":46,"y":27,"v":9},{"x":47,"y":27,"v":14},{"x":48,"y":27,"v":14},{"x":49,"y":27,"v":14},{"x":50,"y":27,"v":14},{"x":51,"y":27,"v":14},{"x":52,"y":27,"v":14},{"x":53,"y":27,"v":14},{"x":54,"y":27,"v":17},{"x":55,"y":27,"v":17},{"x":56,"y":27,"v":19},
{"x":8,"y":28,"v":19},{"x":9,"y":28,"v":19},{"x":10,"y":28,"v":19},{"x":11,"y":28,"v":19},{"x":12,"y":28,"v":19},{"x":14,"y":28,"v":17},{"x":15,"y":28,"v":17},{"x":16,"y":28,"v":9},{"x":18,"y":28,"v":17},{"x":19,"y":28,"v":14},{"x":20,"y":28,"v":9},{"x":21,"y":28,"v":14},{"x":22,"y":28,"v":17},{"x":23,"y":28,"v":14},{"x":24,"y":28,"v":12},{"x":25,"y":28,"v":9},{"x":26,"y":28,"v":5},{"x":27,"y":28,"v":1},{"x":28,"y":28,"v":1},{"x":29,"y":28,"v":1},{"x":30,"y":28,"v":8},{"x":31,"y":28,"v":9},{"x":32,"y":28,"v":14},{"x":33,"y":28,"v":17},{"x":34,"y":28,"v":19},{"x":39,"y":28,"v":19},{"x":40,"y":28,"v":19},{"x":41,"y":28,"v":17},{"x":42,"y":28,"v":14},{"x":44,"y":28,"v":9},{"x":46,"y":28,"v":9},{"x":47,"y":28,"v":9},{"x":48,"y":28,"v":14},{"x":49,"y":28,"v":14},{"x":50,"y":28,"v":14},{"x":51,"y":28,"v":14},{"x":52,"y":28,"v":14},{"x":53,"y":28,"v":14},{"x":54,"y":28,"v":17},{"x":55,"y":28,"v":17},{"x":70,"y":28,"v":19},
{"x":8,"y":29,"v":19},{"x":9,"y":29,"v":14},{"x":10,"y":29,"v":14},{"x":11,"y":29,"v":19},{"x":12,"y":29,"v":14},{"x":13,"y":29,"v":12},{"x":14,"y":29,"v":17},{"x":15,"y":29,"v":14},{"x":16,"y":29,"v":9},{"x":17,"y":29,"v":12},{"x":18,"y":29,"v":17},{"x":19,"y":29,"v":12},{"x":20,"y":29,"v":9},{"x":21,"y":29,"v":14},{"x":22,"y":29,"v":12},{"x":23,"y":29,"v":12},{"x":24,"y":29,"v":12},{"x":25,"y":29,"v":5},{"x":26,"y":29,"v":5},{"x":27,"y":29,"v":8},{"x":28,"y":29,"v":1},{"x":29,"y":29,"v":1},{"x":30,"y":29,"v":1},{"x":31,"y":29,"v":8},{"x":32,"y":29,"v":12},{"x":33,"y":29,"v":14},{"x":34,"y":29,"v":17},{"x":35,"y":29,"v":19},{"x":39,"y":29,"v":17},{"x":40,"y":29,"v":14},{"x":41,"y":29,"v":14},{"x":42,"y":29,"v":14},{"x":43,"y":29,"v":9},{"x":44,"y":29,"v":8},{"x":45,"y":29,"v":6},{"x":46,"y":29,"v":5},{"x":47,"y":29,"v":9},{"x":48,"y":29,"v":12},{"x":49,"y":29,"v":12},{"x":50,"y":29,"v":9},{"x":51,"y":29,"v":9},{"x":52,"y":29,"v":14},{"x":53,"y":29,"v":14},{"x":54,"y":29,"v":19},{"x":55,"y":29,"v":17},{"x":56,"y":29,"v":19},{"x":66,"y":29,"v":19},{"x":67,"y":29,"v":19},{"x":68,"y":29,"v":19},{"x":69,"y":29,"v":19},{"x":70,"y":29,"v":17},{"x":72,"y":29,"v":17},
{"x":7,"y":30,"v":17},{"x":8,"y":30,"v":14},{"x":11,"y":30,"v":14},{"x":12,"y":30,"v":9},{"x":13,"y":30,"v":9},{"x":14,"y":30,"v":12},{"x":15,"y":30,"v":9},{"x":16,"y":30,"v":6},{"x":17,"y":30,"v":9},{"x":18,"y":30,"v":9},{"x":19,"y":30,"v":9},{"x":20,"y":30,"v":9},{"x":21,"y":30,"v":12},{"x":22,"y":30,"v":12},{"x":23,"y":30,"v":12},{"x":24,"y":30,"v":12},{"x":25,"y":30,"v":5},{"x":26,"y":30,"v":9},{"x":27,"y":30,"v":5},{"x":28,"y":30,"v":8},{"x":29,"y":30,"v":1},{"x":30,"y":30,"v":1},{"x":31,"y":30,"v":1},{"x":32,"y":30,"v":8},{"x":33,"y":30,"v":9},{"x":34,"y":30,"v":14},{"x":35,"y":30,"v":14},{"x":36,"y":30,"v":17},{"x":37,"y":30,"v":17},{"x":38,"y":30,"v":17},{"x":39,"y":30,"v":14},{"x":40,"y":30,"v":12},{"x":41,"y":30,"v":12},{"x":42,"y":30,"v":6},{"x":43,"y":30,"v":5},{"x":44,"y":30,"v":8},{"x":45,"y":30,"v":5},{"x":46,"y":30,"v":8},{"x":48,"y":30,"v":14},{"x":49,"y":30,"v":12},{"x":52,"y":30,"v":9},{"x":53,"y":30,"v":9},{"x":54,"y":30,"v":12},{"x":55,"y":30,"v":9},{"x":57,"y":30,"v":17},{"x":63,"y":30,"v":19},{"x":65,"y":30,"v":12},{"x":66,"y":30,"v":19},{"x":67,"y":30,"v":19},{"x":69,"y":30,"v":14},{"x":70,"y":30,"v":17},{"x":72,"y":30,"v":14},
{"x":7,"y":31,"v":14},{"x":8,"y":31,"v":12},{"x":10,"y":31,"v":12},{"x":11,"y":31,"v":17},{"x":12,"y":31,"v":12},{"x":13,"y":31,"v":12},{"x":14,"y":31,"v":17},{"x":15,"y":31,"v":14},{"x":16,"y":31,"v":9},{"x":17,"y":31,"v":14},{"x":19,"y":31,"v":12},{"x":20,"y":31,"v":12},{"x":21,"y":31,"v":17},{"x":23,"y":31,"v":12},{"x":24,"y":31,"v":17},{"x":25,"y":31,"v":9},{"x":26,"y":31,"v":12},{"x":27,"y":31,"v":12},{"x":28,"y":31,"v":9},{"x":29,"y":31,"v":8},{"x":30,"y":31,"v":1},{"x":31,"y":31,"v":1},{"x":32,"y":31,"v":1},{"x":33,"y":31,"v":6},{"x":34,"y":31,"v":9},{"x":35,"y":31,"v":14},{"x":36,"y":31,"v":17},{"x":37,"y":31,"v":17},{"x":38,"y":31,"v":17},{"x":40,"y":31,"v":12},{"x":41,"y":31,"v":8},{"x":42,"y":31,"v":9},{"x":43,"y":31,"v":8},{"x":44,"y":31,"v":5},{"x":45,"y":31,"v":8},{"x":46,"y":31,"v":8},{"x":47,"y":31,"v":12},{"x":48,"y":31,"v":12},{"x":49,"y":31,"v":14},{"x":52,"y":31,"v":9},{"x":53,"y":31,"v":9},{"x":54,"y":31,"v":14},{"x":55,"y":31,"v":12},{"x":57,"y":31,"v":17},{"x":63,"y":31,"v":17},{"x":64,"y":31,"v":17},{"x":65,"y":31,"v":19},{"x":66,"y":31,"v":19},{"x":67,"y":31,"v":19},{"x":68,"y":31,"v":14},{"x":69,"y":31,"v":14},{"x":70,"y":31,"v":14},
{"x":2,"y":32,"v":14},{"x":4,"y":32,"v":12},{"x":5,"y":32,"v":9},{"x":6,"y":32,"v":12},{"x":7,"y":32,"v":9},{"x":11,"y":32,"v":12},{"x":12,"y":32,"v":9},{"x":13,"y":32,"v":9},{"x":14,"y":32,"v":12},{"x":15,"y":32,"v":9},{"x":16,"y":32,"v":9},{"x":17,"y":32,"v":14},{"x":18,"y":32,"v":14},{"x":19,"y":32,"v":12},{"x":20,"y":32,"v":14},{"x":21,"y":32,"v":17},{"x":22,"y":32,"v":14},{"x":23,"y":32,"v":14},{"x":24,"y":32,"v":19},{"x":25,"y":32,"v":14},{"x":26,"y":32,"v":19},{"x":27,"y":32,"v":12},{"x":28,"y":32,"v":14},{"x":29,"y":32,"v":12},{"x":30,"y":32,"v":8},{"x":31,"y":32,"v":1},{"x":32,"y":32,"v":1},{"x":33,"y":32,"v":1},{"x":34,"y":32,"v":8},{"x":35,"y":32,"v":9},{"x":36,"y":32,"v":14},{"x":37,"y":32,"v":14},{"x":39,"y":32,"v":12},{"x":40,"y":32,"v":6},{"x":41,"y":32,"v":6},{"x":42,"y":32,"v":8},{"x":43,"y":32,"v":5},{"x":44,"y":32,"v":8},{"x":45,"y":32,"v":12},{"x":46,"y":32,"v":12},{"x":47,"y":32,"v":17},{"x":48,"y":32,"v":17},{"x":49,"y":32,"v":17},{"x":50,"y":32,"v":14},{"x":51,"y":32,"v":14},{"x":52,"y":32,"v":9},{"x":53,"y":32,"v":9},{"x":54,"y":32,"v":12},{"x":55,"y":32,"v":9},{"x":56,"y":32,"v":14},{"x":57,"y":32,"v":14},{"x":58,"y":32,"v":14},{"x":62,"y":32,"v":14},{"x":65,"y":32,"v":12},{"x":67,"y":32,"v":17},{"x":69,"y":32,"v":14},
{"x":6,"y":33,"v":14},{"x":7,"y":33,"v":14},{"x":8,"y":33,"v":12},{"x":10,"y":33,"v":14},{"x":11,"y":33,"v":14},{"x":12,"y":33,"v":9},{"x":13,"y":33,"v":14},{"x":14,"y":33,"v":17},{"x":15,"y":33,"v":14},{"x":16,"y":33,"v":12},{"x":17,"y":33,"v":17},{"x":18,"y":33,"v":17},{"x":19,"y":33,"v":12},{"x":21,"y":33,"v":17},{"x":22,"y":33,"v":17},{"x":24,"y":33,"v":17},{"x":26,"y":33,"v":14},{"x":28,"y":33,"v":17},{"x":29,"y":33,"v":14},{"x":30,"y":33,"v":9},{"x":31,"y":33,"v":6},{"x":32,"y":33,"v":1},{"x":33,"y":33,"v":1},{"x":34,"y":33,"v":1},{"x":35,"y":33,"v":6},{"x":36,"y":33,"v":9},{"x":37,"y":33,"v":12},{"x":39,"y":33,"v":9},{"x":40,"y":33,"v":9},{"x":41,"y":33,"v":8},{"x":42,"y":33,"v":5},{"x":43,"y":33,"v":8},{"x":44,"y":33,"v":6},{"x":46,"y":33,"v":12},{"x":47,"y":33,"v":17},{"x":48,"y":33,"v":17},{"x":51,"y":33,"v":12},{"x":52,"y":33,"v":9},{"x":53,"y":33,"v":9},{"x":54,"y":33,"v":9},{"x":55,"y":33,"v":9},{"x":56,"y":33,"v":9},{"x":57,"y":33,"v":14},{"x":59,"y":33,"v":17},{"x":63,"y":33,"v":17},{"x":64,"y":33,"v":14},{"x":65,"y":33,"v":14},{"x":66,"y":33,"v":14},{"x":67,"y":33,"v":17},{"x":68,"y":33,"v":12},{"x":70,"y":33,"v":14},
{"x":8,"y":34,"v":14},{"x":10,"y":34,"v":14},{"x":11,"y":34,"v":14},{"x":12,"y":34,"v":12},{"x":13,"y":34,"v":14},{"x":14,"y":34,"v":17},{"x":15,"y":34,"v":14},{"x":16,"y":34,"v":14},{"x":17,"y":34,"v":17},{"x":18,"y":34,"v":17},{"x":20,"y":34,"v":17},{"x":21,"y":34,"v":19},{"x":22,"y":34,"v":17},{"x":23,"y":34,"v":19},{"x":25,"y":34,"v":17},{"x":27,"y":34,"v":17},{"x":28,"y":34,"v":19},{"x":29,"y":34,"v":17},{"x":30,"y":34,"v":14},{"x":31,"y":34,"v":12},{"x":32,"y":34,"v":8},{"x":33,"y":34,"v":1},{"x":34,"y":34,"v":1},{"x":35,"y":34,"v":1},{"x":36,"y":34,"v":8},{"x":37,"y":34,"v":12},{"x":38,"y":34,"v":12},{"x":39,"y":34,"v":9},{"x":40,"y":34,"v":8},{"x":41,"y":34,"v":5},{"x":42,"y":34,"v":8},{"x":43,"y":34,"v":9},{"x":44,"y":34,"v":14},{"x":45,"y":34,"v":17},{"x":46,"y":34,"v":19},{"x":49,"y":34,"v":19},{"x":50,"y":34,"v":17},{"x":51,"y":34,"v":17},{"x":56,"y":34,"v":14},{"x":57,"y":34,"v":14},{"x":58,"y":34,"v":14},{"x":59,"y":34,"v":17},{"x":63,"y":34,"v":14},{"x":64,"y":34,"v":14},{"x":65,"y":34,"v":14},{"x":66,"y":34,"v":14},{"x":67,"y":34,"v":19},{"x":68,"y":34,"v":17},
{"x":8,"y":35,"v":14},{"x":9,"y":35,"v":14},{"x":10,"y":35,"v":17},{"x":12,"y":35,"v":12},{"x":13,"y":35,"v":17},{"x":14,"y":35,"v":17},{"x":15,"y":35,"v":14},{"x":17,"y":35,"v":17},{"x":18,"y":35,"v":17},{"x":20,"y":35,"v":17},{"x":21,"y":35,"v":19},{"x":22,"y":35,"v":17},{"x":23,"y":35,"v":19},{"x":25,"y":35,"v":17},{"x":27,"y":35,"v":19},{"x":29,"y":35,"v":19},{"x":30,"y":35,"v":14},{"x":31,"y":35,"v":14},{"x":32,"y":35,"v":9},{"x":33,"y":35,"v":6},{"x":34,"y":35,"v":1},{"x":35,"y":35,"v":1},{"x":36,"y":35,"v":1},{"x":37,"y":35,"v":8},{"x":38,"y":35,"v":9},{"x":39,"y":35,"v":8},{"x":40,"y":35,"v":5},{"x":41,"y":35,"v":8},{"x":42,"y":35,"v":8},{"x":43,"y":35,"v":14},{"x":44,"y":35,"v":14},{"x":45,"y":35,"v":17},{"x":46,"y":35,"v":17},{"x":50,"y":35,"v":17},{"x":51,"y":35,"v":17},{"x":53,"y":35,"v":9},{"x":57,"y":35,"v":9},{"x":58,"y":35,"v":14},{"x":59,"y":35,"v":14},{"x":64,"y":35,"v":14},{"x":67,"y":35,"v":17},
{"x":10,"y":36,"v":17},{"x":12,"y":36,"v":14},{"x":13,"y":36,"v":17},{"x":16,"y":36,"v":17},{"x":18,"y":36,"v":17},{"x":19,"y":36,"v":17},{"x":30,"y":36,"v":19},{"x":31,"y":36,"v":17},{"x":32,"y":36,"v":14},{"x":33,"y":36,"v":12},{"x":34,"y":36,"v":8},{"x":35,"y":36,"v":1},{"x":36,"y":36,"v":1},{"x":37,"y":36,"v":1},{"x":38,"y":36,"v":5},{"x":39,"y":36,"v":5},{"x":40,"y":36,"v":8},{"x":41,"y":36,"v":9},{"x":42,"y":36,"v":12},{"x":43,"y":36,"v":14},{"x":44,"y":36,"v":17},{"x":50,"y":36,"v":19},{"x":51,"y":36,"v":19},{"x":52,"y":36,"v":14},{"x":53,"y":36,"v":17},{"x":58,"y":36,"v":12},{"x":64,"y":36,"v":17},
{"x":8,"y":37,"v":12},{"x":10,"y":37,"v":17},{"x":12,"y":37,"v":14},{"x":14,"y":37,"v":17},{"x":15,"y":37,"v":17},{"x":16,"y":37,"v":19},{"x":17,"y":37,"v":19},{"x":18,"y":37,"v":19},{"x":19,"y":37,"v":19},{"x":30,"y":37,"v":19},{"x":31,"y":37,"v":19},{"x":32,"y":37,"v":14},{"x":33,"y":37,"v":14},{"x":34,"y":37,"v":12},{"x":35,"y":37,"v":8},{"x":36,"y":37,"v":1},{"x":37,"y":37,"v":1},{"x":38,"y":37,"v":1},{"x":39,"y":37,"v":8},{"x":40,"y":37,"v":9},{"x":41,"y":37,"v":14},{"x":43,"y":37,"v":19},{"x":44,"y":37,"v":19},{"x":52,"y":37,"v":19},{"x":53,"y":37,"v":17},{"x":54,"y":37,"v":14},{"x":58,"y":37,"v":12},
{"x":8,"y":38,"v":14},{"x":9,"y":38,"v":14},{"x":10,"y":38,"v":19},{"x":12,"y":38,"v":12},{"x":13,"y":38,"v":17},{"x":14,"y":38,"v":17},{"x":15,"y":38,"v":14},{"x":16,"y":38,"v":17},{"x":17,"y":38,"v":19},{"x":18,"y":38,"v":19},{"x":19,"y":38,"v":17},{"x":20,"y":38,"v":19},{"x":30,"y":38,"v":17},{"x":31,"y":38,"v":17},{"x":34,"y":38,"v":12},{"x":35,"y":38,"v":9},{"x":36,"y":38,"v":5},{"x":37,"y":38,"v":1},{"x":38,"y":38,"v":1},{"x":39,"y":38,"v":1},{"x":40,"y":38,"v":8},{"x":41,"y":38,"v":12},{"x":42,"y":38,"v":14},{"x":43,"y":38,"v":17},{"x":44,"y":38,"v":19},{"x":51,"y":38,"v":19},{"x":52,"y":38,"v":14},{"x":53,"y":38,"v":14},{"x":59,"y":38,"v":14},{"x":60,"y":38,"v":14},{"x":65,"y":38,"v":14},
{"x":8,"y":39,"v":12},{"x":9,"y":39,"v":14},{"x":10,"y":39,"v":12},{"x":11,"y":39,"v":14},{"x":12,"y":39,"v":9},{"x":13,"y":39,"v":14},{"x":14,"y":39,"v":14},{"x":16,"y":39,"v":14},{"x":17,"y":39,"v":17},{"x":18,"y":39,"v":14},{"x":19,"y":39,"v":12},{"x":20,"y":39,"v":17},{"x":21,"y":39,"v":19},{"x":22,"y":39,"v":19},{"x":23,"y":39,"v":19},{"x":25,"y":39,"v":19},{"x":27,"y":39,"v":17},{"x":28,"y":39,"v":19},{"x":29,"y":39,"v":17},{"x":30,"y":39,"v":14},{"x":32,"y":39,"v":12},{"x":33,"y":39,"v":12},{"x":34,"y":39,"v":9},{"x":35,"y":39,"v":8},{"x":36,"y":39,"v":5},{"x":37,"y":39,"v":8},{"x":38,"y":39,"v":1},{"x":39,"y":39,"v":1},{"x":40,"y":39,"v":1},{"x":41,"y":39,"v":8},{"x":42,"y":39,"v":9},{"x":43,"y":39,"v":14},{"x":44,"y":39,"v":17},{"x":45,"y":39,"v":19},{"x":50,"y":39,"v":17},{"x":54,"y":39,"v":8},{"x":55,"y":39,"v":5},{"x":56,"y":39,"v":8},{"x":57,"y":39,"v":9},{"x":59,"y":39,"v":14},{"x":60,"y":39,"v":14},{"x":61,"y":39,"v":14},{"x":62,"y":39,"v":14},{"x":65,"y":39,"v":14},{"x":69,"y":39,"v":14},
{"x":6,"y":40,"v":17},{"x":8,"y":40,"v":14},{"x":9,"y":40,"v":8},{"x":10,"y":40,"v":14},{"x":11,"y":40,"v":14},{"x":12,"y":40,"v":9},{"x":13,"y":40,"v":14},{"x":14,"y":40,"v":14},{"x":15,"y":40,"v":12},{"x":16,"y":40,"v":8},{"x":17,"y":40,"v":17},{"x":18,"y":40,"v":14},{"x":20,"y":40,"v":14},{"x":21,"y":40,"v":19},{"x":22,"y":40,"v":14},{"x":23,"y":40,"v":14},{"x":24,"y":40,"v":19},{"x":25,"y":40,"v":17},{"x":26,"y":40,"v":19},{"x":27,"y":40,"v":17},{"x":28,"y":40,"v":19},{"x":29,"y":40,"v":14},{"x":30,"y":40,"v":12},{"x":31,"y":40,"v":12},{"x":32,"y":40,"v":6},{"x":33,"y":40,"v":9},{"x":34,"y":40,"v":8},{"x":35,"y":40,"v":5},{"x":36,"y":40,"v":8},{"x":37,"y":40,"v":9},{"x":38,"y":40,"v":8},{"x":39,"y":40,"v":1},{"x":40,"y":40,"v":1},{"x":41,"y":40,"v":1},{"x":42,"y":40,"v":6},{"x":43,"y":40,"v":12},{"x":44,"y":40,"v":12},{"x":45,"y":40,"v":17},{"x":46,"y":40,"v":19},{"x":47,"y":40,"v":19},{"x":49,"y":40,"v":19},{"x":50,"y":40,"v":17},{"x":51,"y":40,"v":14},{"x":52,"y":40,"v":5},{"x":53,"y":40,"v":8},{"x":54,"y":40,"v":5},{"x":55,"y":40,"v":8},{"x":57,"y":40,"v":9},{"x":58,"y":40,"v":12},{"x":59,"y":40,"v":14},{"x":60,"y":40,"v":14},{"x":61,"y":40,"v":14},{"x":62,"y":40,"v":14},{"x":63,"y":40,"v":17},{"x":64,"y":40,"v":14},{"x":66,"y":40,"v":14},{"x":68,"y":40,"v":12},{"x":69,"y":40,"v":12},{"x":71,"y":40,"v":12},
{"x":5,"y":41,"v":14},{"x":6,"y":41,"v":17},{"x":7,"y":41,"v":17},{"x":8,"y":41,"v":12},{"x":9,"y":41,"v":9},{"x":10,"y":41,"v":14},{"x":11,"y":41,"v":12},{"x":12,"y":41,"v":9},{"x":13,"y":41,"v":12},{"x":14,"y":41,"v":12},{"x":15,"y":41,"v":9},{"x":16,"y":41,"v":9},{"x":17,"y":41,"v":12},{"x":18,"y":41,"v":17},{"x":19,"y":41,"v":12},{"x":20,"y":41,"v":14},{"x":21,"y":41,"v":14},{"x":22,"y":41,"v":12},{"x":23,"y":41,"v":17},{"x":24,"y":41,"v":19},{"x":25,"y":41,"v":12},{"x":26,"y":41,"v":17},{"x":27,"y":41,"v":14},{"x":28,"y":41,"v":17},{"x":29,"y":41,"v":14},{"x":30,"y":41,"v":12},{"x":31,"y":41,"v":8},{"x":32,"y":41,"v":6},{"x":33,"y":41,"v":8},{"x":34,"y":41,"v":5},{"x":35,"y":41,"v":8},{"x":36,"y":41,"v":9},{"x":37,"y":41,"v":14},{"x":38,"y":41,"v":12},{"x":39,"y":41,"v":8},{"x":40,"y":41,"v":1},{"x":41,"y":41,"v":1},{"x":42,"y":41,"v":1},{"x":43,"y":41,"v":8},{"x":44,"y":41,"v":9},{"x":45,"y":41,"v":14},{"x":46,"y":41,"v":17},{"x":47,"y":41,"v":19},{"x":48,"y":41,"v":19},{"x":51,"y":41,"v":12},{"x":52,"y":41,"v":6},{"x":53,"y":41,"v":5},{"x":54,"y":41,"v":8},{"x":55,"y":41,"v":8},{"x":56,"y":41,"v":9},{"x":57,"y":41,"v":12},{"x":59,"y":41,"v":14},{"x":60,"y":41,"v":14},{"x":61,"y":41,"v":14},{"x":62,"y":41,"v":14},{"x":63,"y":41,"v":17},{"x":64,"y":41,"v":14},{"x":66,"y":41,"v":14},{"x":70,"y":41,"v":12},{"x":72,"y":41,"v":14},
{"x":5,"y":42,"v":17},{"x":6,"y":42,"v":17},{"x":7,"y":42,"v":17},{"x":9,"y":42,"v":12},{"x":10,"y":42,"v":12},{"x":11,"y":42,"v":9},{"x":12,"y":42,"v":5},{"x":13,"y":42,"v":14},{"x":14,"y":42,"v":14},{"x":15,"y":42,"v":9},{"x":16,"y":42,"v":5},{"x":17,"y":42,"v":14},{"x":18,"y":42,"v":14},{"x":19,"y":42,"v":9},{"x":20,"y":42,"v":9},{"x":21,"y":42,"v":14},{"x":22,"y":42,"v":14},{"x":24,"y":42,"v":14},{"x":26,"y":42,"v":14},{"x":27,"y":42,"v":14},{"x":28,"y":42,"v":12},{"x":29,"y":42,"v":14},{"x":30,"y":42,"v":6},{"x":31,"y":42,"v":9},{"x":32,"y":42,"v":8},{"x":33,"y":42,"v":5},{"x":34,"y":42,"v":8},{"x":35,"y":42,"v":8},{"x":36,"y":42,"v":12},{"x":38,"y":42,"v":14},{"x":39,"y":42,"v":9},{"x":40,"y":42,"v":6},{"x":41,"y":42,"v":1},{"x":42,"y":42,"v":1},{"x":43,"y":42,"v":1},{"x":44,"y":42,"v":6},{"x":45,"y":42,"v":9},{"x":46,"y":42,"v":12},{"x":47,"y":42,"v":17},{"x":48,"y":42,"v":17},{"x":49,"y":42,"v":14},{"x":50,"y":42,"v":6},{"x":51,"y":42,"v":8},{"x":52,"y":42,"v":5},{"x":53,"y":42,"v":8},{"x":54,"y":42,"v":8},{"x":55,"y":42,"v":5},{"x":56,"y":42,"v":6},{"x":57,"y":42,"v":12},{"x":58,"y":42,"v":14},{"x":59,"y":42,"v":17},{"x":62,"y":42,"v":14},{"x":64,"y":42,"v":14},{"x":72,"y":42,"v":14},
{"x":7,"y":43,"v":17},{"x":8,"y":43,"v":17},{"x":10,"y":43,"v":17},{"x":11,"y":43,"v":14},{"x":12,"y":43,"v":14},{"x":13,"y":43,"v":14},{"x":14,"y":43,"v":14},{"x":15,"y":43,"v":9},{"x":16,"y":43,"v":9},{"x":17,"y":43,"v":12},{"x":18,"y":43,"v":12},{"x":19,"y":43,"v":9},{"x":20,"y":43,"v":9},{"x":21,"y":43,"v":12},{"x":22,"y":43,"v":17},{"x":23,"y":43,"v":9},{"x":24,"y":43,"v":14},{"x":25,"y":43,"v":8},{"x":26,"y":43,"v":12},{"x":27,"y":43,"v":9},{"x":29,"y":43,"v":9},{"x":30,"y":43,"v":5},{"x":31,"y":43,"v":8},{"x":32,"y":43,"v":5},{"x":33,"y":43,"v":8},{"x":34,"y":43,"v":9},{"x":35,"y":43,"v":12},{"x":36,"y":43,"v":14},{"x":37,"y":43,"v":19},{"x":38,"y":43,"v":17},{"x":39,"y":43,"v":14},{"x":40,"y":43,"v":12},{"x":41,"y":43,"v":8},{"x":42,"y":43,"v":1},{"x":43,"y":43,"v":1},{"x":44,"y":43,"v":1},{"x":45,"y":43,"v":8},{"x":46,"y":43,"v":9},{"x":47,"y":43,"v":14},{"x":48,"y":43,"v":14},{"x":49,"y":43,"v":8},{"x":50,"y":43,"v":6},{"x":51,"y":43,"v":8},{"x":52,"y":43,"v":8},{"x":53,"y":43,"v":8},{"x":54,"y":43,"v":9},{"x":55,"y":43,"v":6},{"x":56,"y":43,"v":17},{"x":57,"y":43,"v":17},{"x":65,"y":43,"v":14},{"x":66,"y":43,"v":14},{"x":72,"y":43,"v":9},{"x":73,"y":43,"v":9},
{"x":8,"y":44,"v":17},{"x":10,"y":44,"v":17},{"x":11,"y":44,"v":17},{"x":12,"y":44,"v":17},{"x":13,"y":44,"v":9},{"x":14,"y":44,"v":9},{"x":15,"y":44,"v":14},{"x":16,"y":44,"v":6},{"x":17,"y":44,"v":14},{"x":18,"y":44,"v":12},{"x":19,"y":44,"v":12},{"x":20,"y":44,"v":6},{"x":21,"y":44,"v":12},{"x":22,"y":44,"v":14},{"x":23,"y":44,"v":9},{"x":24,"y":44,"v":14},{"x":25,"y":44,"v":9},{"x":26,"y":44,"v":9},{"x":27,"y":44,"v":9},{"x":28,"y":44,"v":9},{"x":29,"y":44,"v":8},{"x":30,"y":44,"v":8},{"x":31,"y":44,"v":5},{"x":32,"y":44,"v":8},{"x":33,"y":44,"v":6},{"x":34,"y":44,"v":12},{"x":35,"y":44,"v":14},{"x":36,"y":44,"v":17},{"x":37,"y":44,"v":19},{"x":38,"y":44,"v":19},{"x":39,"y":44,"v":17},{"x":40,"y":44,"v":12},{"x":41,"y":44,"v":9},{"x":42,"y":44,"v":6},{"x":43,"y":44,"v":1},{"x":44,"y":44,"v":1},{"x":45,"y":44,"v":1},{"x":46,"y":44,"v":8},{"x":47,"y":44,"v":9},{"x":48,"y":44,"v":8},{"x":49,"y":44,"v":5},{"x":50,"y":44,"v":8},{"x":51,"y":44,"v":8},{"x":53,"y":44,"v":6},{"x":54,"y":44,"v":12},{"x":55,"y":44,"v":12},{"x":56,"y":44,"v":17},{"x":57,"y":44,"v":17},{"x":65,"y":44,"v":14},{"x":72,"y":44,"v":12},
{"x":9,"y":45,"v":19},{"x":10,"y":45,"v":19},{"x":11,"y":45,"v":19},{"x":12,"y":45,"v":17},{"x":13,"y":45,"v":17},{"x":14,"y":45,"v":17},{"x":15,"y":45,"v":14},{"x":16,"y":45,"v":14},{"x":17,"y":45,"v":14},{"x":18,"y":45,"v":17},{"x":19,"y":45,"v":14},{"x":20,"y":45,"v":14},{"x":21,"y":45,"v":17},{"x":22,"y":45,"v":19},{"x":24,"y":45,"v":12},{"x":25,"y":45,"v":9},{"x":26,"y":45,"v":9},{"x":27,"y":45,"v":9},{"x":29,"y":45,"v":6},{"x":30,"y":45,"v":5},{"x":31,"y":45,"v":8},{"x":32,"y":45,"v":12},{"x":34,"y":45,"v":17},{"x":35,"y":45,"v":17},{"x":39,"y":45,"v":17},{"x":40,"y":45,"v":14},{"x":41,"y":45,"v":14},{"x":42,"y":45,"v":9},{"x":43,"y":45,"v":8},{"x":44,"y":45,"v":1},{"x":45,"y":45,"v":1},{"x":46,"y":45,"v":1},{"x":47,"y":45,"v":5},{"x":48,"y":45,"v":5},{"x":49,"y":45,"v":8},{"x":50,"y":45,"v":8},{"x":51,"y":45,"v":8},{"x":52,"y":45,"v":9},{"x":53,"y":45,"v":12},{"x":54,"y":45,"v":17},{"x":55,"y":45,"v":17},{"x":56,"y":45,"v":19},{"x":71,"y":45,"v":14},
{"x":9,"y":46,"v":19},{"x":12,"y":46,"v":17},{"x":13,"y":46,"v":17},{"x":14,"y":46,"v":19},{"x":15,"y":46,"v":17},{"x":16,"y":46,"v":12},{"x":17,"y":46,"v":17},{"x":18,"y":46,"v":17},{"x":19,"y":46,"v":14},{"x":20,"y":46,"v":14},{"x":21,"y":46,"v":17},{"x":22,"y":46,"v":17},{"x":23,"y":46,"v":12},{"x":24,"y":46,"v":14},{"x":25,"y":46,"v":9},{"x":26,"y":46,"v":9},{"x":27,"y":46,"v":9},{"x":28,"y":46,"v":9},{"x":29,"y":46,"v":5},{"x":30,"y":46,"v":8},{"x":31,"y":46,"v":8},{"x":32,"y":46,"v":12},{"x":33,"y":46,"v":12},{"x":34,"y":46,"v":17},{"x":35,"y":46,"v":17},{"x":40,"y":46,"v":17},{"x":41,"y":46,"v":14},{"x":42,"y":46,"v":14},{"x":43,"y":46,"v":9},{"x":44,"y":46,"v":8},{"x":45,"y":46,"v":1},{"x":46,"y":46,"v":1},{"x":47,"y":46,"v":1},{"x":48,"y":46,"v":8},{"x":52,"y":46,"v":12},{"x":53,"y":46,"v":12},{"x":54,"y":46,"v":17},{"x":55,"y":46,"v":17},{"x":57,"y":46,"v":17},{"x":58,"y":46,"v":17},
{"x":11,"y":47,"v":19},{"x":12,"y":47,"v":19},{"x":13,"y":47,"v":19},{"x":14,"y":47,"v":19},{"x":15,"y":47,"v":19},{"x":16,"y":47,"v":17},{"x":18,"y":47,"v":19},{"x":19,"y":47,"v":17},{"x":20,"y":47,"v":12},{"x":21,"y":47,"v":19},{"x":22,"y":47,"v":19},{"x":25,"y":47,"v":14},{"x":26,"y":47,"v":14},{"x":27,"y":47,"v":14},{"x":28,"y":47,"v":9},{"x":29,"y":47,"v":9},{"x":31,"y":47,"v":12},{"x":32,"y":47,"v":17},{"x":33,"y":47,"v":17},{"x":40,"y":47,"v":17},{"x":41,"y":47,"v":17},{"x":42,"y":47,"v":14},{"x":43,"y":47,"v":14},{"x":44,"y":47,"v":9},{"x":45,"y":47,"v":5},{"x":46,"y":47,"v":1},{"x":47,"y":47,"v":1},{"x":48,"y":47,"v":1},{"x":49,"y":47,"v":8},{"x":50,"y":47,"v":9},{"x":51,"y":47,"v":12},{"x":54,"y":47,"v":19},{"x":71,"y":47,"v":17},
{"x":11,"y":48,"v":19},{"x":12,"y":48,"v":19},{"x":13,"y":48,"v":19},{"x":14,"y":48,"v":19},{"x":15,"y":48,"v":19},{"x":16,"y":48,"v":17},{"x":17,"y":48,"v":19},{"x":18,"y":48,"v":19},{"x":19,"y":48,"v":17},{"x":20,"y":48,"v":17},{"x":21,"y":48,"v":19},{"x":22,"y":48,"v":17},{"x":24,"y":48,"v":17},{"x":25,"y":48,"v":14},{"x":26,"y":48,"v":14},{"x":27,"y":48,"v":14},{"x":28,"y":48,"v":14},{"x":29,"y":48,"v":12},{"x":30,"y":48,"v":14},{"x":31,"y":48,"v":14},{"x":32,"y":48,"v":17},{"x":33,"y":48,"v":17},{"x":41,"y":48,"v":19},{"x":42,"y":48,"v":17},{"x":43,"y":48,"v":14},{"x":44,"y":48,"v":8},{"x":45,"y":48,"v":5},{"x":46,"y":48,"v":8},{"x":47,"y":48,"v":1},{"x":48,"y":48,"v":1},{"x":49,"y":48,"v":1},{"x":50,"y":48,"v":8},{"x":51,"y":48,"v":9},{"x":52,"y":48,"v":14},{"x":53,"y":48,"v":14},{"x":54,"y":48,"v":19},
{"x":11,"y":49,"v":19},{"x":12,"y":49,"v":19},{"x":13,"y":49,"v":19},{"x":18,"y":49,"v":19},{"x":21,"y":49,"v":17},{"x":22,"y":49,"v":17},{"x":23,"y":49,"v":14},{"x":24,"y":49,"v":14},{"x":25,"y":49,"v":12},{"x":26,"y":49,"v":14},{"x":27,"y":49,"v":14},{"x":28,"y":49,"v":14},{"x":29,"y":49,"v":9},{"x":30,"y":49,"v":12},{"x":31,"y":49,"v":12},{"x":32,"y":49,"v":17},{"x":34,"y":49,"v":17},{"x":40,"y":49,"v":17},{"x":42,"y":49,"v":14},{"x":43,"y":49,"v":8},{"x":44,"y":49,"v":5},{"x":45,"y":49,"v":8},{"x":47,"y":49,"v":8},{"x":48,"y":49,"v":1},{"x":49,"y":49,"v":1},{"x":50,"y":49,"v":1},{"x":51,"y":49,"v":8},{"x":52,"y":49,"v":9},{"x":53,"y":49,"v":14},{"x":54,"y":49,"v":17},{"x":55,"y":49,"v":19},{"x":69,"y":49,"v":17},
{"x":11,"y":50,"v":19},{"x":12,"y":50,"v":19},{"x":13,"y":50,"v":19},{"x":14,"y":50,"v":19},{"x":15,"y":50,"v":17},{"x":16,"y":50,"v":14},{"x":17,"y":50,"v":17},{"x":18,"y":50,"v":17},{"x":19,"y":50,"v":12},{"x":21,"y":50,"v":17},{"x":22,"y":50,"v":17},{"x":23,"y":50,"v":14},{"x":25,"y":50,"v":12},{"x":26,"y":50,"v":17},{"x":27,"y":50,"v":14},{"x":28,"y":50,"v":14},{"x":29,"y":50,"v":9},{"x":32,"y":50,"v":14},{"x":34,"y":50,"v":14},{"x":35,"y":50,"v":17},{"x":36,"y":50,"v":19},{"x":39,"y":50,"v":17},{"x":40,"y":50,"v":17},{"x":42,"y":50,"v":6},{"x":43,"y":50,"v":6},{"x":44,"y":50,"v":8},{"x":45,"y":50,"v":8},{"x":47,"y":50,"v":9},{"x":48,"y":50,"v":8},{"x":49,"y":50,"v":1},{"x":50,"y":50,"v":1},{"x":51,"y":50,"v":1},{"x":52,"y":50,"v":6},{"x":53,"y":50,"v":9},{"x":54,"y":50,"v":14},{"x":55,"y":50,"v":17},{"x":56,"y":50,"v":19},
{"x":13,"y":51,"v":19},{"x":14,"y":51,"v":19},{"x":15,"y":51,"v":14},{"x":16,"y":51,"v":14},{"x":17,"y":51,"v":17},{"x":18,"y":51,"v":17},{"x":20,"y":51,"v":14},{"x":21,"y":51,"v":17},{"x":22,"y":51,"v":14},{"x":24,"y":51,"v":12},{"x":25,"y":51,"v":9},{"x":26,"y":51,"v":12},{"x":27,"y":51,"v":14},{"x":28,"y":51,"v":14},{"x":29,"y":51,"v":9},{"x":32,"y":51,"v":14},{"x":33,"y":51,"v":14},{"x":34,"y":51,"v":14},{"x":35,"y":51,"v":17},{"x":36,"y":51,"v":19},{"x":38,"y":51,"v":19},{"x":40,"y":51,"v":14},{"x":41,"y":51,"v":14},{"x":42,"y":51,"v":8},{"x":43,"y":51,"v":8},{"x":44,"y":51,"v":8},{"x":45,"y":51,"v":8},{"x":47,"y":51,"v":12},{"x":48,"y":51,"v":12},{"x":49,"y":51,"v":8},{"x":50,"y":51,"v":1},{"x":51,"y":51,"v":1},{"x":52,"y":51,"v":1},{"x":53,"y":51,"v":6},{"x":54,"y":51,"v":12},{"x":55,"y":51,"v":12},{"x":56,"y":51,"v":17},{"x":57,"y":51,"v":19},{"x":67,"y":51,"v":17},{"x":71,"y":51,"v":14},
{"x":9,"y":52,"v":19},{"x":10,"y":52,"v":19},{"x":11,"y":52,"v":19},{"x":13,"y":52,"v":17},{"x":14,"y":52,"v":17},{"x":15,"y":52,"v":14},{"x":16,"y":52,"v":14},{"x":17,"y":52,"v":17},{"x":20,"y":52,"v":14},{"x":21,"y":52,"v":17},{"x":22,"y":52,"v":14},{"x":24,"y":52,"v":17},{"x":25,"y":52,"v":12},{"x":27,"y":52,"v":14},{"x":28,"y":52,"v":14},{"x":29,"y":52,"v":12},{"x":30,"y":52,"v":9},{"x":31,"y":52,"v":9},{"x":32,"y":52,"v":9},{"x":33,"y":52,"v":9},{"x":36,"y":52,"v":14},{"x":37,"y":52,"v":17},{"x":38,"y":52,"v":14},{"x":40,"y":52,"v":5},{"x":41,"y":52,"v":6},{"x":42,"y":52,"v":5},{"x":43,"y":52,"v":8},{"x":45,"y":52,"v":12},{"x":46,"y":52,"v":12},{"x":48,"y":52,"v":14},{"x":49,"y":52,"v":12},{"x":50,"y":52,"v":6},{"x":51,"y":52,"v":1},{"x":52,"y":52,"v":1},{"x":53,"y":52,"v":1},{"x":54,"y":52,"v":8},{"x":55,"y":52,"v":9},{"x":56,"y":52,"v":12},{"x":57,"y":52,"v":17},{"x":58,"y":52,"v":19},{"x":71,"y":52,"v":14},
{"x":7,"y":53,"v":17},{"x":8,"y":53,"v":14},{"x":12,"y":53,"v":12},{"x":13,"y":53,"v":12},{"x":14,"y":53,"v":12},{"x":17,"y":53,"v":12},{"x":19,"y":53,"v":9},{"x":21,"y":53,"v":12},{"x":23,"y":53,"v":9},{"x":25,"y":53,"v":9},{"x":26,"y":53,"v":12},{"x":27,"y":53,"v":12},{"x":28,"y":53,"v":14},{"x":29,"y":53,"v":12},{"x":30,"y":53,"v":9},{"x":31,"y":53,"v":9},{"x":32,"y":53,"v":9},{"x":33,"y":53,"v":9},{"x":35,"y":53,"v":9},{"x":36,"y":53,"v":14},{"x":37,"y":53,"v":17},{"x":38,"y":53,"v":14},{"x":40,"y":53,"v":8},{"x":41,"y":53,"v":5},{"x":42,"y":53,"v":8},{"x":43,"y":53,"v":8},{"x":44,"y":53,"v":6},{"x":45,"y":53,"v":12},{"x":46,"y":53,"v":12},{"x":48,"y":53,"v":14},{"x":49,"y":53,"v":12},{"x":50,"y":53,"v":12},{"x":51,"y":53,"v":6},{"x":52,"y":53,"v":1},{"x":53,"y":53,"v":1},{"x":54,"y":53,"v":1},{"x":55,"y":53,"v":6},{"x":56,"y":53,"v":12},{"x":57,"y":53,"v":12},{"x":58,"y":53,"v":14},{"x":59,"y":53,"v":19},{"x":60,"y":53,"v":19},{"x":63,"y":53,"v":17},{"x":66,"y":53,"v":12},{"x":69,"y":53,"v":14},{"x":71,"y":53,"v":14},
{"x":8,"y":54,"v":14},{"x":9,"y":54,"v":17},{"x":10,"y":54,"v":17},{"x":11,"y":54,"v":17},{"x":12,"y":54,"v":12},{"x":13,"y":54,"v":17},{"x":14,"y":54,"v":17},{"x":16,"y":54,"v":12},{"x":17,"y":54,"v":17},{"x":18,"y":54,"v":12},{"x":19,"y":54,"v":9},{"x":20,"y":54,"v":14},{"x":21,"y":54,"v":19},{"x":22,"y":54,"v":12},{"x":24,"y":54,"v":17},{"x":25,"y":54,"v":12},{"x":26,"y":54,"v":17},{"x":27,"y":54,"v":17},{"x":28,"y":54,"v":17},{"x":29,"y":54,"v":17},{"x":30,"y":54,"v":9},{"x":31,"y":54,"v":14},{"x":32,"y":54,"v":9},{"x":33,"y":54,"v":9},{"x":37,"y":54,"v":14},{"x":39,"y":54,"v":8},{"x":40,"y":54,"v":5},{"x":41,"y":54,"v":8},{"x":42,"y":54,"v":8},{"x":43,"y":54,"v":9},{"x":44,"y":54,"v":9},{"x":45,"y":54,"v":17},{"x":46,"y":54,"v":17},{"x":47,"y":54,"v":19},{"x":48,"y":54,"v":19},{"x":49,"y":54,"v":17},{"x":50,"y":54,"v":14},{"x":51,"y":54,"v":12},{"x":52,"y":54,"v":8},{"x":53,"y":54,"v":1},{"x":54,"y":54,"v":1},{"x":55,"y":54,"v":1},{"x":56,"y":54,"v":8},{"x":57,"y":54,"v":12},{"x":58,"y":54,"v":12},{"x":59,"y":54,"v":17},{"x":60,"y":54,"v":19},{"x":61,"y":54,"v":14},{"x":62,"y":54,"v":14},{"x":63,"y":54,"v":19},{"x":64,"y":54,"v":14},
{"x":9,"y":55,"v":14},{"x":10,"y":55,"v":12},{"x":15,"y":55,"v":5},{"x":16,"y":55,"v":9},{"x":17,"y":55,"v":17},{"x":19,"y":55,"v":9},{"x":21,"y":55,"v":12},{"x":24,"y":55,"v":14},{"x":25,"y":55,"v":12},{"x":26,"y":55,"v":17},{"x":27,"y":55,"v":17},{"x":28,"y":55,"v":14},{"x":29,"y":55,"v":14},{"x":30,"y":55,"v":9},{"x":31,"y":55,"v":12},{"x":32,"y":55,"v":9},{"x":33,"y":55,"v":9},{"x":39,"y":55,"v":5},{"x":40,"y":55,"v":8},{"x":41,"y":55,"v":8},{"x":42,"y":55,"v":5},{"x":43,"y":55,"v":6},{"x":44,"y":55,"v":9},{"x":45,"y":55,"v":17},{"x":46,"y":55,"v":17},{"x":49,"y":55,"v":19},{"x":50,"y":55,"v":17},{"x":51,"y":55,"v":12},{"x":52,"y":55,"v":9},{"x":53,"y":55,"v":6},{"x":54,"y":55,"v":1},{"x":55,"y":55,"v":1},{"x":56,"y":55,"v":1},{"x":57,"y":55,"v":8},{"x":58,"y":55,"v":9},{"x":59,"y":55,"v":12},{"x":60,"y":55,"v":14},{"x":61,"y":55,"v":14},{"x":63,"y":55,"v":14},{"x":64,"y":55,"v":14},{"x":65,"y":55,"v":12},{"x":66,"y":55,"v":14},{"x":69,"y":55,"v":14},{"x":71,"y":55,"v":14},
{"x":10,"y":56,"v":17},{"x":11,"y":56,"v":14},{"x":12,"y":56,"v":12},{"x":13,"y":56,"v":17},{"x":14,"y":56,"v":12},{"x":16,"y":56,"v":12},{"x":17,"y":56,"v":14},{"x":18,"y":56,"v":17},{"x":20,"y":56,"v":12},{"x":21,"y":56,"v":12},{"x":22,"y":56,"v":12},{"x":23,"y":56,"v":12},{"x":25,"y":56,"v":17},{"x":27,"y":56,"v":19},{"x":29,"y":56,"v":19},{"x":32,"y":56,"v":14},{"x":33,"y":56,"v":9},{"x":34,"y":56,"v":14},{"x":39,"y":56,"v":8},{"x":41,"y":56,"v":9},{"x":42,"y":56,"v":6},{"x":43,"y":56,"v":17},{"x":44,"y":56,"v":17},{"x":45,"y":56,"v":19},{"x":50,"y":56,"v":19},{"x":51,"y":56,"v":17},{"x":52,"y":56,"v":12},{"x":53,"y":56,"v":9},{"x":54,"y":56,"v":8},{"x":55,"y":56,"v":1},{"x":56,"y":56,"v":1},{"x":57,"y":56,"v":1},{"x":58,"y":56,"v":8},{"x":59,"y":56,"v":9},{"x":60,"y":56,"v":12},{"x":61,"y":56,"v":14},{"x":63,"y":56,"v":12},{"x":64,"y":56,"v":12},{"x":65,"y":56,"v":12},
{"x":10,"y":57,"v":12},{"x":11,"y":57,"v":12},{"x":12,"y":57,"v":12},{"x":13,"y":57,"v":19},{"x":14,"y":57,"v":12},{"x":16,"y":57,"v":12},{"x":17,"y":57,"v":14},{"x":18,"y":57,"v":17},{"x":19,"y":57,"v":17},{"x":22,"y":57,"v":12},{"x":23,"y":57,"v":14},{"x":25,"y":57,"v":19},{"x":30,"y":57,"v":17},{"x":31,"y":57,"v":17},{"x":32,"y":57,"v":14},{"x":33,"y":57,"v":14},{"x":34,"y":57,"v":14},{"x":35,"y":57,"v":9},{"x":39,"y":57,"v":9},{"x":40,"y":57,"v":9},{"x":41,"y":57,"v":12},{"x":42,"y":57,"v":12},{"x":43,"y":57,"v":17},{"x":44,"y":57,"v":17},{"x":46,"y":57,"v":17},{"x":51,"y":57,"v":19},{"x":52,"y":57,"v":17},{"x":53,"y":57,"v":12},{"x":54,"y":57,"v":12},{"x":55,"y":57,"v":8},{"x":56,"y":57,"v":1},{"x":57,"y":57,"v":1},{"x":58,"y":57,"v":1},{"x":59,"y":57,"v":8},{"x":60,"y":57,"v":9},{"x":61,"y":57,"v":14},{"x":62,"y":57,"v":9},{"x":63,"y":57,"v":9},{"x":64,"y":57,"v":9},{"x":65,"y":57,"v":9},{"x":66,"y":57,"v":14},
{"x":10,"y":58,"v":12},{"x":11,"y":58,"v":12},{"x":12,"y":58,"v":12},{"x":13,"y":58,"v":14},{"x":16,"y":58,"v":12},{"x":17,"y":58,"v":12},{"x":20,"y":58,"v":12},{"x":21,"y":58,"v":12},{"x":23,"y":58,"v":12},{"x":32,"y":58,"v":14},{"x":34,"y":58,"v":14},{"x":35,"y":58,"v":14},{"x":36,"y":58,"v":14},{"x":37,"y":58,"v":14},{"x":40,"y":58,"v":14},{"x":42,"y":58,"v":14},{"x":46,"y":58,"v":17},{"x":52,"y":58,"v":19},{"x":53,"y":58,"v":14},{"x":54,"y":58,"v":9},{"x":55,"y":58,"v":9},{"x":56,"y":58,"v":8},{"x":57,"y":58,"v":1},{"x":58,"y":58,"v":1},{"x":59,"y":58,"v":1},{"x":60,"y":58,"v":8},{"x":61,"y":58,"v":9},{"x":62,"y":58,"v":12},{"x":63,"y":58,"v":9},{"x":64,"y":58,"v":9},{"x":65,"y":58,"v":9},{"x":66,"y":58,"v":14},{"x":67,"y":58,"v":14},{"x":68,"y":58,"v":14},{"x":69,"y":58,"v":14},
{"x":11,"y":59,"v":14},{"x":12,"y":59,"v":14},{"x":14,"y":59,"v":14},{"x":19,"y":59,"v":14},{"x":22,"y":59,"v":14},{"x":33,"y":59,"v":17},{"x":34,"y":59,"v":14},{"x":35,"y":59,"v":14},{"x":38,"y":59,"v":14},{"x":39,"y":59,"v":14},{"x":40,"y":59,"v":14},{"x":41,"y":59,"v":14},{"x":42,"y":59,"v":17},{"x":53,"y":59,"v":17},{"x":54,"y":59,"v":14},{"x":55,"y":59,"v":12},{"x":56,"y":59,"v":9},{"x":57,"y":59,"v":8},{"x":58,"y":59,"v":1},{"x":59,"y":59,"v":1},{"x":60,"y":59,"v":1},{"x":61,"y":59,"v":8},{"x":62,"y":59,"v":9},{"x":63,"y":59,"v":12},{"x":64,"y":59,"v":9},{"x":65,"y":59,"v":9},{"x":66,"y":59,"v":14},{"x":67,"y":59,"v":14},{"x":68,"y":59,"v":14},{"x":69,"y":59,"v":14},
{"x":11,"y":60,"v":14},{"x":12,"y":60,"v":14},{"x":14,"y":60,"v":14},{"x":15,"y":60,"v":12},{"x":18,"y":60,"v":12},{"x":19,"y":60,"v":14},{"x":38,"y":60,"v":14},{"x":39,"y":60,"v":14},{"x":40,"y":60,"v":14},{"x":41,"y":60,"v":14},{"x":53,"y":60,"v":17},{"x":54,"y":60,"v":17},{"x":55,"y":60,"v":14},{"x":56,"y":60,"v":14},{"x":57,"y":60,"v":9},{"x":58,"y":60,"v":8},{"x":59,"y":60,"v":1},{"x":60,"y":60,"v":1},{"x":61,"y":60,"v":1},{"x":62,"y":60,"v":8},{"x":63,"y":60,"v":9},{"x":64,"y":60,"v":9},{"x":65,"y":60,"v":9},{"x":66,"y":60,"v":9},{"x":67,"y":60,"v":9},{"x":68,"y":60,"v":12},{"x":69,"y":60,"v":14},{"x":70,"y":60,"v":17},{"x":71,"y":60,"v":17},
{"x":15,"y":61,"v":12},{"x":19,"y":61,"v":14},{"x":39,"y":61,"v":14},{"x":40,"y":61,"v":14},{"x":41,"y":61,"v":14},{"x":54,"y":61,"v":14},{"x":55,"y":61,"v":14},{"x":56,"y":61,"v":14},{"x":57,"y":61,"v":12},{"x":58,"y":61,"v":9},{"x":59,"y":61,"v":8},{"x":60,"y":61,"v":1},{"x":61,"y":61,"v":1},{"x":62,"y":61,"v":1},{"x":63,"y":61,"v":8},{"x":64,"y":61,"v":5},{"x":65,"y":61,"v":6},{"x":66,"y":61,"v":9},{"x":67,"y":61,"v":9},{"x":68,"y":61,"v":9},{"x":69,"y":61,"v":12},{"x":70,"y":61,"v":14},{"x":71,"y":61,"v":14},
{"x":11,"y":62,"v":14},{"x":12,"y":62,"v":14},{"x":14,"y":62,"v":12},{"x":15,"y":62,"v":12},{"x":23,"y":62,"v":12},{"x":32,"y":62,"v":14},{"x":39,"y":62,"v":14},{"x":40,"y":62,"v":14},{"x":41,"y":62,"v":14},{"x":42,"y":62,"v":14},{"x":54,"y":62,"v":14},{"x":57,"y":62,"v":9},{"x":58,"y":62,"v":12},{"x":59,"y":62,"v":9},{"x":60,"y":62,"v":8},{"x":61,"y":62,"v":1},{"x":62,"y":62,"v":1},{"x":63,"y":62,"v":1},{"x":64,"y":62,"v":8},{"x":65,"y":62,"v":5},{"x":66,"y":62,"v":6},{"x":67,"y":62,"v":9},{"x":68,"y":62,"v":9},{"x":69,"y":62,"v":9},{"x":70,"y":62,"v":12},{"x":71,"y":62,"v":14},
{"x":15,"y":63,"v":14},{"x":30,"y":63,"v":17},{"x":31,"y":63,"v":17},{"x":33,"y":63,"v":17},{"x":34,"y":63,"v":14},{"x":40,"y":63,"v":17},{"x":41,"y":63,"v":17},{"x":53,"y":63,"v":14},{"x":54,"y":63,"v":17},{"x":55,"y":63,"v":14},{"x":56,"y":63,"v":14},{"x":57,"y":63,"v":9},{"x":58,"y":63,"v":9},{"x":59,"y":63,"v":12},{"x":60,"y":63,"v":9},{"x":61,"y":63,"v":8},{"x":62,"y":63,"v":1},{"x":63,"y":63,"v":1},{"x":64,"y":63,"v":1},{"x":65,"y":63,"v":8},{"x":66,"y":63,"v":5},{"x":68,"y":63,"v":9},{"x":69,"y":63,"v":9},{"x":71,"y":63,"v":12},{"x":72,"y":63,"v":14},
{"x":15,"y":64,"v":14},{"x":31,"y":64,"v":17},{"x":33,"y":64,"v":14},{"x":34,"y":64,"v":14},{"x":35,"y":64,"v":14},{"x":36,"y":64,"v":17},{"x":40,"y":64,"v":14},{"x":41,"y":64,"v":14},{"x":42,"y":64,"v":14},{"x":54,"y":64,"v":14},{"x":55,"y":64,"v":14},{"x":56,"y":64,"v":12},{"x":57,"y":64,"v":9},{"x":58,"y":64,"v":9},{"x":59,"y":64,"v":9},{"x":60,"y":64,"v":9},{"x":61,"y":64,"v":5},{"x":62,"y":64,"v":8},{"x":63,"y":64,"v":1},{"x":64,"y":64,"v":1},{"x":65,"y":64,"v":1},{"x":66,"y":64,"v":8},{"x":67,"y":64,"v":5},{"x":69,"y":64,"v":9},{"x":70,"y":64,"v":9},{"x":72,"y":64,"v":12},
{"x":15,"y":65,"v":14},{"x":19,"y":65,"v":12},{"x":23,"y":65,"v":12},{"x":30,"y":65,"v":12},{"x":31,"y":65,"v":17},{"x":32,"y":65,"v":14},{"x":33,"y":65,"v":14},{"x":34,"y":65,"v":14},{"x":38,"y":65,"v":14},{"x":39,"y":65,"v":14},{"x":43,"y":65,"v":14},{"x":44,"y":65,"v":14},{"x":55,"y":65,"v":12},{"x":56,"y":65,"v":12},{"x":57,"y":65,"v":9},{"x":58,"y":65,"v":9},{"x":59,"y":65,"v":9},{"x":60,"y":65,"v":9},{"x":61,"y":65,"v":6},{"x":62,"y":65,"v":5},{"x":63,"y":65,"v":8},{"x":64,"y":65,"v":1},{"x":65,"y":65,"v":1},{"x":66,"y":65,"v":1},{"x":67,"y":65,"v":8},{"x":70,"y":65,"v":9},{"x":71,"y":65,"v":9},{"x":73,"y":65,"v":12},{"x":74,"y":65,"v":14},
{"x":19,"y":66,"v":12},{"x":29,"y":66,"v":17},{"x":30,"y":66,"v":17},{"x":31,"y":66,"v":17},{"x":33,"y":66,"v":14},{"x":34,"y":66,"v":14},{"x":40,"y":66,"v":14},{"x":41,"y":66,"v":14},{"x":43,"y":66,"v":14},{"x":53,"y":66,"v":12},{"x":55,"y":66,"v":14},{"x":57,"y":66,"v":14},{"x":58,"y":66,"v":14},{"x":59,"y":66,"v":14},{"x":60,"y":66,"v":9},{"x":61,"y":66,"v":9},{"x":62,"y":66,"v":6},{"x":63,"y":66,"v":5},{"x":64,"y":66,"v":8},{"x":65,"y":66,"v":1},{"x":66,"y":66,"v":1},{"x":67,"y":66,"v":1},{"x":68,"y":66,"v":8},{"x":71,"y":66,"v":9},{"x":72,"y":66,"v":19},{"x":74,"y":66,"v":12},
{"x":29,"y":67,"v":19},{"x":30,"y":67,"v":19},{"x":31,"y":67,"v":19},{"x":32,"y":67,"v":17},{"x":33,"y":67,"v":17},{"x":34,"y":67,"v":19},{"x":35,"y":67,"v":17},{"x":51,"y":67,"v":17},{"x":58,"y":67,"v":14},{"x":59,"y":67,"v":14},{"x":60,"y":67,"v":9},{"x":61,"y":67,"v":9},{"x":62,"y":67,"v":9},{"x":64,"y":67,"v":5},{"x":65,"y":67,"v":8},{"x":66,"y":67,"v":1},{"x":67,"y":67,"v":1},{"x":68,"y":67,"v":1},{"x":69,"y":67,"v":8},{"x":70,"y":67,"v":9},{"x":72,"y":67,"v":17},{"x":73,"y":67,"v":19},
{"x":16,"y":68,"v":17},{"x":29,"y":68,"v":19},{"x":31,"y":68,"v":14},{"x":33,"y":68,"v":14},{"x":34,"y":68,"v":17},{"x":40,"y":68,"v":14},{"x":58,"y":68,"v":14},{"x":59,"y":68,"v":14},{"x":60,"y":68,"v":12},{"x":61,"y":68,"v":9},{"x":62,"y":68,"v":9},{"x":63,"y":68,"v":9},{"x":66,"y":68,"v":8},{"x":67,"y":68,"v":1},{"x":68,"y":68,"v":1},{"x":69,"y":68,"v":1},{"x":70,"y":68,"v":8},{"x":71,"y":68,"v":9},{"x":72,"y":68,"v":12},{"x":73,"y":68,"v":17},
{"x":16,"y":69,"v":17},{"x":20,"y":69,"v":17},{"x":29,"y":69,"v":19},{"x":30,"y":69,"v":14},{"x":31,"y":69,"v":14},{"x":32,"y":69,"v":14},{"x":39,"y":69,"v":14},{"x":40,"y":69,"v":14},{"x":49,"y":69,"v":17},{"x":53,"y":69,"v":14},{"x":55,"y":69,"v":14},{"x":58,"y":69,"v":14},{"x":59,"y":69,"v":14},{"x":60,"y":69,"v":14},{"x":61,"y":69,"v":12},{"x":62,"y":69,"v":9},{"x":63,"y":69,"v":12},{"x":64,"y":69,"v":9},{"x":67,"y":69,"v":8},{"x":68,"y":69,"v":1},{"x":69,"y":69,"v":1},{"x":70,"y":69,"v":1},{"x":71,"y":69,"v":8},{"x":72,"y":69,"v":9},{"x":73,"y":69,"v":12},{"x":74,"y":69,"v":14},{"x":75,"y":69,"v":19},
{"x":16,"y":70,"v":17},{"x":28,"y":70,"v":17},{"x":29,"y":70,"v":17},{"x":30,"y":70,"v":17},{"x":31,"y":70,"v":14},{"x":33,"y":70,"v":14},{"x":41,"y":70,"v":14},{"x":60,"y":70,"v":17},{"x":61,"y":70,"v":17},{"x":62,"y":70,"v":9},{"x":64,"y":70,"v":9},{"x":65,"y":70,"v":9},{"x":67,"y":70,"v":9},{"x":68,"y":70,"v":8},{"x":69,"y":70,"v":1},{"x":70,"y":70,"v":1},{"x":71,"y":70,"v":1},{"x":72,"y":70,"v":8},{"x":73,"y":70,"v":9},{"x":74,"y":70,"v":12},{"x":76,"y":70,"v":14},
{"x":16,"y":71,"v":17},{"x":40,"y":71,"v":14},{"x":45,"y":71,"v":14},{"x":47,"y":71,"v":17},{"x":51,"y":71,"v":14},{"x":52,"y":71,"v":14},{"x":53,"y":71,"v":12},{"x":55,"y":71,"v":14},{"x":60,"y":71,"v":17},{"x":61,"y":71,"v":14},{"x":62,"y":71,"v":14},{"x":63,"y":71,"v":12},{"x":65,"y":71,"v":9},{"x":66,"y":71,"v":9},{"x":68,"y":71,"v":9},{"x":69,"y":71,"v":8},{"x":70,"y":71,"v":1},{"x":71,"y":71,"v":1},{"x":72,"y":71,"v":1},{"x":73,"y":71,"v":8},{"x":74,"y":71,"v":9},{"x":75,"y":71,"v":12},{"x":76,"y":71,"v":14},
{"x":16,"y":72,"v":14},{"x":29,"y":72,"v":14},{"x":30,"y":72,"v":14},{"x":41,"y":72,"v":14},{"x":42,"y":72,"v":14},{"x":43,"y":72,"v":12},{"x":44,"y":72,"v":12},{"x":63,"y":72,"v":14},{"x":64,"y":72,"v":14},{"x":66,"y":72,"v":19},{"x":67,"y":72,"v":14},{"x":68,"y":72,"v":12},{"x":69,"y":72,"v":9},{"x":70,"y":72,"v":8},{"x":71,"y":72,"v":1},{"x":72,"y":72,"v":1},{"x":73,"y":72,"v":1},{"x":74,"y":72,"v":8},{"x":75,"y":72,"v":9},{"x":76,"y":72,"v":12},{"x":77,"y":72,"v":14},
{"x":13,"y":73,"v":8},{"x":16,"y":73,"v":19},{"x":43,"y":73,"v":12},{"x":65,"y":73,"v":12},{"x":67,"y":73,"v":17},{"x":68,"y":73,"v":17},{"x":69,"y":73,"v":12},{"x":70,"y":73,"v":9},{"x":71,"y":73,"v":8},{"x":72,"y":73,"v":1},{"x":73,"y":73,"v":1},{"x":74,"y":73,"v":1},{"x":75,"y":73,"v":8},{"x":76,"y":73,"v":9},{"x":77,"y":73,"v":12},{"x":78,"y":73,"v":14},{"x":79,"y":73,"v":17},
{"x":10,"y":74,"v":8},{"x":11,"y":74,"v":9},{"x":12,"y":74,"v":8},{"x":13,"y":74,"v":5},{"x":65,"y":74,"v":14},{"x":66,"y":74,"v":12},{"x":69,"y":74,"v":14},{"x":70,"y":74,"v":12},{"x":71,"y":74,"v":9},{"x":72,"y":74,"v":8},{"x":73,"y":74,"v":1},{"x":74,"y":74,"v":1},{"x":75,"y":74,"v":1},{"x":76,"y":74,"v":8},{"x":77,"y":74,"v":9},{"x":78,"y":74,"v":12},{"x":79,"y":74,"v":14},
{"x":12,"y":75,"v":12},{"x":13,"y":75,"v":8},{"x":69,"y":75,"v":19},{"x":71,"y":75,"v":12},{"x":72,"y":75,"v":9},{"x":73,"y":75,"v":8},{"x":74,"y":75,"v":1},{"x":75,"y":75,"v":1},{"x":76,"y":75,"v":1},{"x":77,"y":75,"v":8},{"x":78,"y":75,"v":9},{"x":79,"y":75,"v":12},
{"x":70,"y":76,"v":14},{"x":71,"y":76,"v":14},{"x":72,"y":76,"v":12},{"x":73,"y":76,"v":9},{"x":74,"y":76,"v":8},{"x":75,"y":76,"v":1},{"x":76,"y":76,"v":1},{"x":77,"y":76,"v":1},{"x":78,"y":76,"v":8},{"x":79,"y":76,"v":9},
{"x":72,"y":77,"v":14},{"x":73,"y":77,"v":12},{"x":74,"y":77,"v":9},{"x":75,"y":77,"v":8},{"x":76,"y":77,"v":1},{"x":77,"y":77,"v":1},{"x":78,"y":77,"v":1},{"x":79,"y":77,"v":8},
{"x":73,"y":78,"v":14},{"x":74,"y":78,"v":12},{"x":75,"y":78,"v":9},{"x":76,"y":78,"v":8},{"x":77,"y":78,"v":1},{"x":78,"y":78,"v":1},{"x":79,"y":78,"v":1},
{"x":73,"y":79,"v":14},{"x":74,"y":79,"v":14},{"x":75,"y":79,"v":12},{"x":76,"y":79,"v":9},{"x":77,"y":79,"v":8},{"x":78,"y":79,"v":1},{"x":79,"y":79,"v":1}
]},"hconcat":[{"width":1698,"height":1698,"view":{"fill":"#0000ff","stroke":"#555555"},"layer":[{"data":{"name":"cells"},"mark":{"type":"rect","width":21.7,"height":21.7},"encoding":{"x":{"field":"x","type":"quantitative","scale":{"domain":[0.5,79.5],"nice":false,"zero":false},"axis":{"values":[20,40,60],"grid":false,"domain":false,"title":"Residue index","titleFont":"Liberation Sans","titleFontSize":60,"titleFontWeight":"bold","titleColor":"black","titlePadding":-5,"labelFont":"Liberation Sans","labelFontSize":59,"labelFontWeight":"bold","labelColor":"black","labelPadding":2,"labelFlush":false,"tickSize":5,"tickColor":"#444444"}},"y":{"field":"y","type":"quantitative","scale":{"domain":[0.5,79.5],"nice":false,"zero":false},"axis":{"values":[20,40,60],"grid":false,"domain":false,"title":"Residue index","titleFont":"Liberation Sans","titleFontSize":60,"titleFontWeight":"bold","titleColor":"black","titlePadding":-3,"labelFont":"Liberation Sans","labelFontSize":59,"labelFontWeight":"bold","labelColor":"black","labelPadding":8,"labelFlush":false,"tickSize":5,"tickColor":"#444444"}},"color":{"field":"v","type":"quantitative","legend":null,"scale":{"type":"threshold","domain":[2.05,3.33,4.61,5.89,7.17,8.45,9.73,11.01,12.29,13.57,14.85,16.13,17.41,18.69,19.97],"range":["#ff0000","#ff2400","#ff4b00","#ff6400","#ff8c00","#ffa500","#a5bf80","#9fb986","#8fae8e","#8aa992","#80a299","#7a9ca0","#6c94a9","#6690ae","#5686ba","#0000ff"]}}}},{"data":{"values":[{"x":20,"y":20}]},"mark":{"type":"point","opacity":0},"encoding":{"x":{"field":"x","type":"quantitative","axis":{"orient":"top","values":[20,40,60],"labels":false,"grid":false,"domain":false,"title":null,"tickSize":5,"tickColor":"#444444"}},"y":{"field":"y","type":"quantitative","axis":{"orient":"right","values":[20,40,60],"labels":false,"grid":false,"domain":false,"title":null,"tickSize":5,"tickColor":"#444444"}}}}],"resolve":{"axis":{"x":"independent","y":"independent"}}},{"width":15,"height":1698,"view":{"stroke":"#555555"},"data":{"values":[{"lo":0.77,"hi":2.05,"v":1.4},{"lo":2.05,"hi":3.33,"v":2.7},{"lo":3.33,"hi":4.61,"v":4},{"lo":4.61,"hi":5.89,"v":5.2},{"lo":5.89,"hi":7.17,"v":6.5},{"lo":7.17,"hi":8.45,"v":7.8},{"lo":8.45,"hi":9.73,"v":9.1},{"lo":9.73,"hi":11.01,"v":10.4},{"lo":11.01,"hi":12.29,"v":11.6},{"lo":12.29,"hi":13.57,"v":12.9},{"lo":13.57,"hi":14.85,"v":14.2},{"lo":14.85,"hi":16.13,"v":15.5},{"lo":16.13,"hi":17.41,"v":16.8},{"lo":17.41,"hi":18.69,"v":18},{"lo":18.69,"hi":19.97,"v":19.3},{"lo":19.97,"hi":21.26,"v":20.6}]},"mark":"rect","encoding":{"y":{"field":"lo","type":"quantitative","scale":{"domain":[0.77,21.26],"nice":false,"zero":false},"axis":{"orient":"right","values":[5,10,15,20],"grid":false,"domain":false,"title":null,"labelFont":"Liberation Sans","labelFontSize":48,"labelFontWeight":"bold","labelColor":"black","labelPadding":1,"tickSize":5,"tickColor":"#444444","labelFlush":false}},"y2":{"field":"hi"},"color":{"field":"v","type":"quantitative","legend":null,"scale":{"type":"threshold","domain":[2.05,3.33,4.61,5.89,7.17,8.45,9.73,11.01,12.29,13.57,14.85,16.13,17.41,18.69,19.97],"range":["#ff0000","#ff2400","#ff4b00","#ff6400","#ff8c00","#ffa500","#a5bf80","#9fb986","#8fae8e","#8aa992","#80a299","#7a9ca0","#6c94a9","#6690ae","#5686ba","#0000ff"]}}}}],"resolve":{"scale":{"y":"independent","x":"independent"}}}
